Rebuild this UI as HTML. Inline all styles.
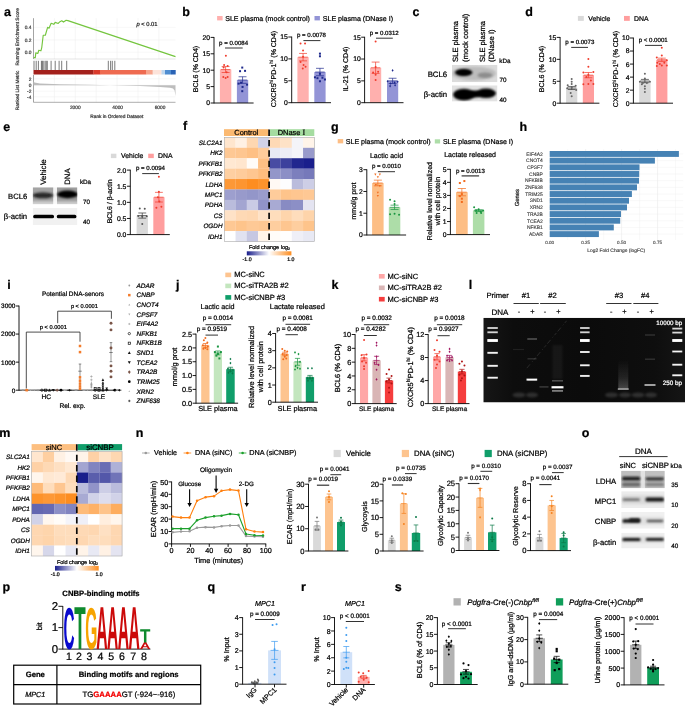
<!DOCTYPE html><html><head><meta charset="utf-8"><title>Figure</title><style>html,body{margin:0;padding:0;background:#fff}svg{display:block}text{font-family:"Liberation Sans",Arial,Helvetica,sans-serif;text-rendering:geometricPrecision}</style></head><body><svg width="685" height="709" viewBox="0 0 685 709"><defs><filter id="blur1" x="-30%" y="-60%" width="160%" height="220%"><feGaussianBlur stdDeviation="1.1"/></filter><filter id="blur2" x="-30%" y="-60%" width="160%" height="220%"><feGaussianBlur stdDeviation="0.6"/></filter><clipPath id="cc1"><rect x="452" y="64.8" width="45.5" height="17.5"/></clipPath><clipPath id="cc2"><rect x="452" y="85.3" width="45.5" height="16.3"/></clipPath></defs>
<text x="4" y="16" font-size="12.5" stroke="#000" stroke-width="0.22" font-weight="bold">a</text>
<line x1="54.4" y1="18.2" x2="54.4" y2="59" stroke="#ececec" stroke-width="0.5"/>
<line x1="54.4" y1="75" x2="54.4" y2="102.3" stroke="#ececec" stroke-width="0.5"/>
<line x1="75.3" y1="18.2" x2="75.3" y2="59" stroke="#ececec" stroke-width="0.5"/>
<line x1="75.3" y1="75" x2="75.3" y2="102.3" stroke="#ececec" stroke-width="0.5"/>
<line x1="96.2" y1="18.2" x2="96.2" y2="59" stroke="#ececec" stroke-width="0.5"/>
<line x1="96.2" y1="75" x2="96.2" y2="102.3" stroke="#ececec" stroke-width="0.5"/>
<line x1="117.1" y1="18.2" x2="117.1" y2="59" stroke="#ececec" stroke-width="0.5"/>
<line x1="117.1" y1="75" x2="117.1" y2="102.3" stroke="#ececec" stroke-width="0.5"/>
<line x1="138" y1="18.2" x2="138" y2="59" stroke="#ececec" stroke-width="0.5"/>
<line x1="138" y1="75" x2="138" y2="102.3" stroke="#ececec" stroke-width="0.5"/>
<line x1="158.9" y1="18.2" x2="158.9" y2="59" stroke="#ececec" stroke-width="0.5"/>
<line x1="158.9" y1="75" x2="158.9" y2="102.3" stroke="#ececec" stroke-width="0.5"/>
<line x1="33.5" y1="27.3" x2="175.5" y2="27.3" stroke="#efefef" stroke-width="0.5"/>
<line x1="33.5" y1="39.9" x2="175.5" y2="39.9" stroke="#efefef" stroke-width="0.5"/>
<line x1="33.5" y1="52.2" x2="175.5" y2="52.2" stroke="#efefef" stroke-width="0.5"/>
<line x1="33.5" y1="78.8" x2="175.5" y2="78.8" stroke="#efefef" stroke-width="0.5"/>
<line x1="33.5" y1="85.2" x2="175.5" y2="85.2" stroke="#efefef" stroke-width="0.5"/>
<line x1="33.5" y1="91.2" x2="175.5" y2="91.2" stroke="#efefef" stroke-width="0.5"/>
<line x1="33.5" y1="96.8" x2="175.5" y2="96.8" stroke="#efefef" stroke-width="0.5"/>
<line x1="33.5" y1="18.2" x2="33.5" y2="59" stroke="#666" stroke-width="0.6"/>
<line x1="33.5" y1="59" x2="175.5" y2="59" stroke="#bbb" stroke-width="0.4"/>
<line x1="33.5" y1="75" x2="33.5" y2="102.3" stroke="#666" stroke-width="0.6"/>
<line x1="33.5" y1="102.3" x2="175.5" y2="102.3" stroke="#777" stroke-width="0.6"/>
<path d="M33.51 57.67 L35.27 57.67 L35.8 52.91 L37.92 53.44 L38.8 50.26 L40.92 50.79 L41.8 47.27 L43.21 35.27 L45.33 35.27 L47.62 27.34 L49.03 28.22 L51.15 23.28 L53.79 24.34 L55.2 22.4 L58.2 23.46 L59.96 21.69 L61.73 20.81 L63.49 22.05 L66.14 20.28 L67.9 20.63 L175.5 56.6" stroke="#74C53E" fill="none" stroke-width="1.15" stroke-linejoin="round"/>
<line x1="34" y1="60.8" x2="34" y2="70" stroke="#222" stroke-width="0.6"/>
<line x1="36.2" y1="60.8" x2="36.2" y2="70" stroke="#222" stroke-width="0.6"/>
<line x1="38.4" y1="60.8" x2="38.4" y2="70" stroke="#222" stroke-width="0.6"/>
<line x1="41.4" y1="60.8" x2="41.4" y2="70" stroke="#222" stroke-width="0.6"/>
<line x1="42.3" y1="60.8" x2="42.3" y2="70" stroke="#222" stroke-width="0.6"/>
<line x1="43.2" y1="60.8" x2="43.2" y2="70" stroke="#222" stroke-width="0.6"/>
<line x1="45" y1="60.8" x2="45" y2="70" stroke="#222" stroke-width="0.6"/>
<line x1="46.2" y1="60.8" x2="46.2" y2="70" stroke="#222" stroke-width="0.6"/>
<line x1="47.3" y1="60.8" x2="47.3" y2="70" stroke="#222" stroke-width="0.6"/>
<line x1="51.1" y1="60.8" x2="51.1" y2="70" stroke="#222" stroke-width="0.6"/>
<line x1="55.2" y1="60.8" x2="55.2" y2="70" stroke="#222" stroke-width="0.6"/>
<line x1="59.1" y1="60.8" x2="59.1" y2="70" stroke="#222" stroke-width="0.6"/>
<line x1="61.7" y1="60.8" x2="61.7" y2="70" stroke="#222" stroke-width="0.6"/>
<line x1="66.7" y1="60.8" x2="66.7" y2="70" stroke="#222" stroke-width="0.6"/>
<line x1="108.3" y1="60.8" x2="108.3" y2="70" stroke="#222" stroke-width="0.6"/>
<line x1="110.6" y1="60.8" x2="110.6" y2="70" stroke="#222" stroke-width="0.6"/>
<line x1="112.3" y1="60.8" x2="112.3" y2="70" stroke="#222" stroke-width="0.6"/>
<line x1="114.8" y1="60.8" x2="114.8" y2="70" stroke="#222" stroke-width="0.6"/>
<rect x="33.5" y="70" width="60.1" height="4.5" fill="#A3201B"/>
<rect x="93.4" y="70" width="6.8" height="4.5" fill="#D93A2B"/>
<rect x="100" y="70" width="46.2" height="4.5" fill="#EE6A50"/>
<rect x="146" y="70" width="6.9" height="4.5" fill="#F6A48C"/>
<rect x="152.7" y="70" width="9" height="4.5" fill="#FCE3DA"/>
<rect x="161.5" y="70" width="3.7" height="4.5" fill="#BFD7EE"/>
<rect x="165" y="70" width="6.2" height="4.5" fill="#4F8DD0"/>
<rect x="171" y="70" width="4.7" height="4.5" fill="#2A63B5"/>
<path d="M33.5 85.2 L33.5 81.4 L34.5 82.6 L40 83.4 L60 84.2 L90 84.8 L110 85.2 L110 85.2 L140 86.1 L160 86.9 L170 87.7 L173 88.5 L174.6 90.5 L175.5 96 L175.5 85.2 Z" stroke="none" fill="#BDBDBD" stroke-width="1"/>
<text x="31.3" y="29" font-size="4.8" stroke="#444" stroke-width="0.22" text-anchor="end" fill="#444">0.4</text>
<text x="31.3" y="41.6" font-size="4.8" stroke="#444" stroke-width="0.22" text-anchor="end" fill="#444">0.2</text>
<text x="31.3" y="53.9" font-size="4.8" stroke="#444" stroke-width="0.22" text-anchor="end" fill="#444">0.0</text>
<text x="31.3" y="80.5" font-size="4.8" stroke="#444" stroke-width="0.22" text-anchor="end" fill="#444">2</text>
<text x="31.3" y="86.9" font-size="4.8" stroke="#444" stroke-width="0.22" text-anchor="end" fill="#444">0</text>
<text x="31.3" y="92.9" font-size="4.8" stroke="#444" stroke-width="0.22" text-anchor="end" fill="#444">-2</text>
<text x="31.3" y="98.5" font-size="4.8" stroke="#444" stroke-width="0.22" text-anchor="end" fill="#444">-4</text>
<text x="75.3" y="109" font-size="4.8" stroke="#444" stroke-width="0.22" text-anchor="middle" fill="#444">2000</text>
<text x="117.7" y="109" font-size="4.8" stroke="#444" stroke-width="0.22" text-anchor="middle" fill="#444">4000</text>
<text x="160" y="109" font-size="4.8" stroke="#444" stroke-width="0.22" text-anchor="middle" fill="#444">6000</text>
<text x="116.8" y="117.6" font-size="4.8" stroke="#333" stroke-width="0.22" text-anchor="middle" fill="#333">Rank in Ordered Dataset</text>
<text x="19.3" y="36.8" font-size="4.8" stroke="#333" stroke-width="0.22" text-anchor="middle" fill="#333" transform="rotate(-90 19.3 36.8)">Running Enrichment Score</text>
<text x="19.3" y="90.4" font-size="4.8" stroke="#333" stroke-width="0.22" text-anchor="middle" fill="#333" transform="rotate(-90 19.3 90.4)">Ranked List Metric</text>
<text x="147" y="25.6" font-size="5.8" stroke="#222" stroke-width="0.22" text-anchor="middle" fill="#222"><tspan font-style="italic">p</tspan> &lt; 0.01</text>
<text x="182.3" y="15.7" font-size="12.5" stroke="#000" stroke-width="0.22" font-weight="bold">b</text>
<rect x="217.1" y="16" width="5.5" height="4.4" fill="#FFB0AE"/>
<text x="225.2" y="20.53" font-size="7.07" stroke="#000" stroke-width="0.22">SLE plasma (mock control)</text>
<rect x="314.5" y="16" width="5.4" height="4.4" fill="#9394D6"/>
<text x="322.8" y="20.53" font-size="7.07" stroke="#000" stroke-width="0.22">SLE plasma (DNase I)</text>
<rect x="219.9" y="69.54" width="11.4" height="33.46" fill="#FFB0AE"/>
<rect x="236.9" y="80.04" width="11.3" height="22.96" fill="#9394D6"/>
<line x1="225.6" y1="66.59" x2="225.6" y2="72.5" stroke="#F03C2D" stroke-width="0.7"/>
<line x1="221.61" y1="66.59" x2="229.59" y2="66.59" stroke="#F03C2D" stroke-width="0.7"/>
<line x1="221.61" y1="72.5" x2="229.59" y2="72.5" stroke="#F03C2D" stroke-width="0.7"/>
<line x1="220.81" y1="69.54" x2="230.39" y2="69.54" stroke="#F03C2D" stroke-width="0.7"/>
<circle cx="225.9" cy="55.77" r="1" fill="#F03C2D"/>
<circle cx="224.1" cy="64.95" r="1" fill="#F03C2D"/>
<circle cx="227.6" cy="65.94" r="1" fill="#F03C2D"/>
<circle cx="223.6" cy="67.58" r="1" fill="#F03C2D"/>
<circle cx="226.6" cy="72.17" r="1" fill="#F03C2D"/>
<circle cx="223.3" cy="77.09" r="1" fill="#F03C2D"/>
<circle cx="227.6" cy="77.09" r="1" fill="#F03C2D"/>
<circle cx="225.6" cy="78.07" r="1" fill="#F03C2D"/>
<line x1="242.55" y1="76.76" x2="242.55" y2="83.32" stroke="#1F2A8C" stroke-width="0.7"/>
<line x1="238.59" y1="76.76" x2="246.51" y2="76.76" stroke="#1F2A8C" stroke-width="0.7"/>
<line x1="238.59" y1="83.32" x2="246.51" y2="83.32" stroke="#1F2A8C" stroke-width="0.7"/>
<line x1="237.8" y1="80.04" x2="247.3" y2="80.04" stroke="#1F2A8C" stroke-width="0.7"/>
<rect x="241.25" y="66.58" width="2" height="2" fill="#1F2A8C"/>
<rect x="239.05" y="70.18" width="2" height="2" fill="#1F2A8C"/>
<rect x="244.05" y="69.86" width="2" height="2" fill="#1F2A8C"/>
<rect x="237.55" y="82.65" width="2" height="2" fill="#1F2A8C"/>
<rect x="246.05" y="83.63" width="2" height="2" fill="#1F2A8C"/>
<rect x="240.05" y="81.66" width="2" height="2" fill="#1F2A8C"/>
<rect x="241.55" y="85.93" width="2" height="2" fill="#1F2A8C"/>
<rect x="241.25" y="90.19" width="2" height="2" fill="#1F2A8C"/>
<line x1="214" y1="37" x2="214" y2="103.4" stroke="#000" stroke-width="0.9"/>
<line x1="214" y1="103" x2="253.6" y2="103" stroke="#000" stroke-width="0.9"/>
<line x1="210.6" y1="103" x2="214" y2="103" stroke="#000" stroke-width="0.9"/>
<text x="210.1" y="105.45" font-size="6.8" stroke="#000" stroke-width="0.22" text-anchor="end">0</text>
<line x1="210.6" y1="86.6" x2="214" y2="86.6" stroke="#000" stroke-width="0.9"/>
<text x="210.1" y="89.05" font-size="6.8" stroke="#000" stroke-width="0.22" text-anchor="end">5</text>
<line x1="210.6" y1="70.2" x2="214" y2="70.2" stroke="#000" stroke-width="0.9"/>
<text x="210.1" y="72.65" font-size="6.8" stroke="#000" stroke-width="0.22" text-anchor="end">10</text>
<line x1="210.6" y1="53.8" x2="214" y2="53.8" stroke="#000" stroke-width="0.9"/>
<text x="210.1" y="56.25" font-size="6.8" stroke="#000" stroke-width="0.22" text-anchor="end">15</text>
<line x1="210.6" y1="37.4" x2="214" y2="37.4" stroke="#000" stroke-width="0.9"/>
<text x="210.1" y="39.85" font-size="6.8" stroke="#000" stroke-width="0.22" text-anchor="end">20</text>
<text x="198.4" y="69" font-size="7" stroke="#000" stroke-width="0.22" text-anchor="middle" transform="rotate(-90 198.4 69)">BCL6 (% CD4)</text>
<text x="233.6" y="44.5" font-size="6.1" stroke="#000" stroke-width="0.22" text-anchor="middle">p = 0.0084</text>
<line x1="225" y1="48" x2="242.7" y2="48" stroke="#333" stroke-width="1"/>
<rect x="297.4" y="57.15" width="11.3" height="45.55" fill="#FFB0AE"/>
<rect x="314.3" y="72.04" width="11.3" height="30.66" fill="#9394D6"/>
<line x1="303.05" y1="53.43" x2="303.05" y2="60.87" stroke="#F03C2D" stroke-width="0.7"/>
<line x1="299.09" y1="53.43" x2="307" y2="53.43" stroke="#F03C2D" stroke-width="0.7"/>
<line x1="299.09" y1="60.87" x2="307" y2="60.87" stroke="#F03C2D" stroke-width="0.7"/>
<line x1="298.3" y1="57.15" x2="307.8" y2="57.15" stroke="#F03C2D" stroke-width="0.7"/>
<circle cx="300.55" cy="43.57" r="1" fill="#F03C2D"/>
<circle cx="305.05" cy="43.57" r="1" fill="#F03C2D"/>
<circle cx="303.05" cy="50.58" r="1" fill="#F03C2D"/>
<circle cx="303.05" cy="56.71" r="1" fill="#F03C2D"/>
<circle cx="300.55" cy="61.97" r="1" fill="#F03C2D"/>
<circle cx="303.55" cy="65.03" r="1" fill="#F03C2D"/>
<circle cx="305.55" cy="66.78" r="1" fill="#F03C2D"/>
<circle cx="302.75" cy="68.54" r="1" fill="#F03C2D"/>
<line x1="319.95" y1="68.32" x2="319.95" y2="75.76" stroke="#1F2A8C" stroke-width="0.7"/>
<line x1="316" y1="68.32" x2="323.9" y2="68.32" stroke="#1F2A8C" stroke-width="0.7"/>
<line x1="316" y1="75.76" x2="323.9" y2="75.76" stroke="#1F2A8C" stroke-width="0.7"/>
<line x1="315.2" y1="72.04" x2="324.7" y2="72.04" stroke="#1F2A8C" stroke-width="0.7"/>
<rect x="318.95" y="52.64" width="2" height="2" fill="#1F2A8C"/>
<rect x="318.95" y="55.27" width="2" height="2" fill="#1F2A8C"/>
<rect x="318.95" y="72.79" width="2" height="2" fill="#1F2A8C"/>
<rect x="313.95" y="76.3" width="2" height="2" fill="#1F2A8C"/>
<rect x="316.45" y="77.17" width="2" height="2" fill="#1F2A8C"/>
<rect x="321.45" y="76.73" width="2" height="2" fill="#1F2A8C"/>
<rect x="323.95" y="78.49" width="2" height="2" fill="#1F2A8C"/>
<rect x="318.95" y="80.24" width="2" height="2" fill="#1F2A8C"/>
<line x1="291.7" y1="36.6" x2="291.7" y2="103.1" stroke="#000" stroke-width="0.9"/>
<line x1="291.7" y1="102.7" x2="331" y2="102.7" stroke="#000" stroke-width="0.9"/>
<line x1="288.3" y1="102.7" x2="291.7" y2="102.7" stroke="#000" stroke-width="0.9"/>
<text x="287.8" y="105.15" font-size="6.8" stroke="#000" stroke-width="0.22" text-anchor="end">0</text>
<line x1="288.3" y1="80.8" x2="291.7" y2="80.8" stroke="#000" stroke-width="0.9"/>
<text x="287.8" y="83.25" font-size="6.8" stroke="#000" stroke-width="0.22" text-anchor="end">5</text>
<line x1="288.3" y1="58.9" x2="291.7" y2="58.9" stroke="#000" stroke-width="0.9"/>
<text x="287.8" y="61.35" font-size="6.8" stroke="#000" stroke-width="0.22" text-anchor="end">10</text>
<line x1="288.3" y1="37" x2="291.7" y2="37" stroke="#000" stroke-width="0.9"/>
<text x="287.8" y="39.45" font-size="6.8" stroke="#000" stroke-width="0.22" text-anchor="end">15</text>
<text x="275.8" y="69" font-size="7" stroke="#000" stroke-width="0.22" text-anchor="middle" transform="rotate(-90 275.8 69)">CXCR5<tspan font-size="72%" dy="-2.4" stroke-width="0.12">hi</tspan><tspan dy="2.4">PD-1</tspan><tspan font-size="72%" dy="-2.4" stroke-width="0.12">hi</tspan><tspan dy="2.4"> (% CD4)</tspan></text>
<text x="311.5" y="37.3" font-size="6.1" stroke="#000" stroke-width="0.22" text-anchor="middle">p = 0.0078</text>
<line x1="303.4" y1="40.6" x2="320.4" y2="40.6" stroke="#333" stroke-width="1"/>
<rect x="370" y="67.77" width="11.2" height="34.93" fill="#FFB0AE"/>
<rect x="387" y="80.87" width="11.2" height="21.83" fill="#9394D6"/>
<line x1="375.6" y1="62.09" x2="375.6" y2="73.44" stroke="#F03C2D" stroke-width="0.7"/>
<line x1="371.68" y1="62.09" x2="379.52" y2="62.09" stroke="#F03C2D" stroke-width="0.7"/>
<line x1="371.68" y1="73.44" x2="379.52" y2="73.44" stroke="#F03C2D" stroke-width="0.7"/>
<line x1="370.9" y1="67.77" x2="380.3" y2="67.77" stroke="#F03C2D" stroke-width="0.7"/>
<circle cx="375.6" cy="41.57" r="1" fill="#F03C2D"/>
<circle cx="375.6" cy="66.89" r="1" fill="#F03C2D"/>
<circle cx="373.1" cy="72.57" r="1" fill="#F03C2D"/>
<circle cx="378.1" cy="71.7" r="1" fill="#F03C2D"/>
<circle cx="375.6" cy="74.75" r="1" fill="#F03C2D"/>
<circle cx="375.6" cy="79.99" r="1" fill="#F03C2D"/>
<line x1="392.6" y1="78.25" x2="392.6" y2="83.49" stroke="#1F2A8C" stroke-width="0.7"/>
<line x1="388.68" y1="78.25" x2="396.52" y2="78.25" stroke="#1F2A8C" stroke-width="0.7"/>
<line x1="388.68" y1="83.49" x2="396.52" y2="83.49" stroke="#1F2A8C" stroke-width="0.7"/>
<line x1="387.9" y1="80.87" x2="397.3" y2="80.87" stroke="#1F2A8C" stroke-width="0.7"/>
<polygon points="392.6,69.09 393.6,70.39 392.6,71.69 391.6,70.39" fill="#1F2A8C"/>
<polygon points="387.6,80 388.6,81.3 387.6,82.6 386.6,81.3" fill="#1F2A8C"/>
<polygon points="397.6,80.44 398.6,81.74 397.6,83.04 396.6,81.74" fill="#1F2A8C"/>
<polygon points="390.6,82.19 391.6,83.49 390.6,84.79 389.6,83.49" fill="#1F2A8C"/>
<polygon points="394.6,81.31 395.6,82.61 394.6,83.91 393.6,82.61" fill="#1F2A8C"/>
<polygon points="390.1,84.81 391.1,86.11 390.1,87.41 389.1,86.11" fill="#1F2A8C"/>
<polygon points="395.1,83.93 396.1,85.23 395.1,86.53 394.1,85.23" fill="#1F2A8C"/>
<line x1="364.6" y1="36.8" x2="364.6" y2="103.1" stroke="#000" stroke-width="0.9"/>
<line x1="364.6" y1="102.7" x2="403.5" y2="102.7" stroke="#000" stroke-width="0.9"/>
<line x1="361.2" y1="102.7" x2="364.6" y2="102.7" stroke="#000" stroke-width="0.9"/>
<text x="360.7" y="105.15" font-size="6.8" stroke="#000" stroke-width="0.22" text-anchor="end">0</text>
<line x1="361.2" y1="80.87" x2="364.6" y2="80.87" stroke="#000" stroke-width="0.9"/>
<text x="360.7" y="83.31" font-size="6.8" stroke="#000" stroke-width="0.22" text-anchor="end">5</text>
<line x1="361.2" y1="59.03" x2="364.6" y2="59.03" stroke="#000" stroke-width="0.9"/>
<text x="360.7" y="61.48" font-size="6.8" stroke="#000" stroke-width="0.22" text-anchor="end">10</text>
<line x1="361.2" y1="37.2" x2="364.6" y2="37.2" stroke="#000" stroke-width="0.9"/>
<text x="360.7" y="39.65" font-size="6.8" stroke="#000" stroke-width="0.22" text-anchor="end">15</text>
<text x="348.4" y="69" font-size="7" stroke="#000" stroke-width="0.22" text-anchor="middle" transform="rotate(-90 348.4 69)">IL-21 (% CD4)</text>
<text x="384.2" y="34.8" font-size="6.1" stroke="#000" stroke-width="0.22" text-anchor="middle">p = 0.0312</text>
<line x1="376" y1="38.2" x2="392.8" y2="38.2" stroke="#333" stroke-width="1"/>
<text x="412.5" y="15.8" font-size="12.5" stroke="#000" stroke-width="0.22" font-weight="bold">c</text>
<text x="458.4" y="61.9" font-size="7.6" stroke="#000" stroke-width="0.22" transform="rotate(-90 458.4 61.9)">SLE plasma</text>
<text x="468" y="61.9" font-size="7.6" stroke="#000" stroke-width="0.22" transform="rotate(-90 468 61.9)">(mock control)</text>
<text x="484.7" y="61.9" font-size="7.6" stroke="#000" stroke-width="0.22" transform="rotate(-90 484.7 61.9)">SLE plasma</text>
<text x="494.3" y="61.9" font-size="7.6" stroke="#000" stroke-width="0.22" transform="rotate(-90 494.3 61.9)">(DNase I)</text>
<text x="499.3" y="62.5" font-size="6.3" stroke="#000" stroke-width="0.22">kDa</text>
<g clip-path="url(#cc1)">
<rect x="452" y="64.8" width="45.5" height="17.5" fill="#DCDCDC"/>
<ellipse cx="474" cy="73.5" rx="22" ry="7" fill="#777" opacity="0.3" filter="url(#blur1)"/>
<ellipse cx="463.7" cy="72.5" rx="8.8" ry="3.5" fill="#000" opacity="1" filter="url(#blur1)"/>
<ellipse cx="463.7" cy="72.5" rx="6" ry="2" fill="#000" opacity="0.8" filter="url(#blur1)"/>
<ellipse cx="485" cy="75.3" rx="7.5" ry="2.8" fill="#444" opacity="0.4" filter="url(#blur1)"/>
</g><g clip-path="url(#cc2)">
<rect x="452" y="85.3" width="45.5" height="16.3" fill="#E2E2E2"/>
<ellipse cx="464" cy="94.6" rx="11" ry="5.8" fill="#000" opacity="1" filter="url(#blur1)"/>
<ellipse cx="486" cy="93.3" rx="10" ry="4.8" fill="#000" opacity="1" filter="url(#blur1)"/>
<ellipse cx="475" cy="94" rx="6" ry="3.6" fill="#000" opacity="1" filter="url(#blur1)"/>
</g>
<text x="447.2" y="77" font-size="7.8" stroke="#000" stroke-width="0.22" text-anchor="end">BCL6</text>
<text x="447.2" y="96.7" font-size="7.8" stroke="#000" stroke-width="0.22" text-anchor="end">β-actin</text>
<text x="499.6" y="82" font-size="6.3" stroke="#000" stroke-width="0.22">70</text>
<text x="499.6" y="102.2" font-size="6.3" stroke="#000" stroke-width="0.22">40</text>
<text x="525.3" y="16" font-size="12.5" stroke="#000" stroke-width="0.22" font-weight="bold">d</text>
<rect x="577.9" y="15.95" width="5.9" height="4.9" fill="#D9D9D9"/>
<text x="588.2" y="20.67" font-size="6.88" stroke="#000" stroke-width="0.22">Vehicle</text>
<rect x="624" y="15.95" width="5.8" height="4.9" fill="#FF9E9E"/>
<text x="634" y="20.67" font-size="6.88" stroke="#000" stroke-width="0.22">DNA</text>
<rect x="566.1" y="87.98" width="11.2" height="15.22" fill="#D9D9D9"/>
<rect x="582.8" y="75.13" width="11.2" height="28.07" fill="#FF9E9E"/>
<line x1="571.7" y1="86.44" x2="571.7" y2="89.51" stroke="#333" stroke-width="0.7"/>
<line x1="567.78" y1="86.44" x2="575.62" y2="86.44" stroke="#333" stroke-width="0.7"/>
<line x1="567.78" y1="89.51" x2="575.62" y2="89.51" stroke="#333" stroke-width="0.7"/>
<line x1="567" y1="87.98" x2="576.4" y2="87.98" stroke="#333" stroke-width="0.7"/>
<circle cx="571.7" cy="79.07" r="1" fill="#666"/>
<circle cx="571.7" cy="81.71" r="1" fill="#666"/>
<circle cx="567.7" cy="85.21" r="1" fill="#666"/>
<circle cx="575.7" cy="85.65" r="1" fill="#666"/>
<circle cx="571.7" cy="83.9" r="1" fill="#666"/>
<circle cx="567.2" cy="88.29" r="1" fill="#666"/>
<circle cx="571.7" cy="87.85" r="1" fill="#666"/>
<circle cx="576.2" cy="90.04" r="1" fill="#666"/>
<circle cx="570.7" cy="93.11" r="1" fill="#666"/>
<circle cx="571.7" cy="96.18" r="1" fill="#666"/>
<line x1="588.4" y1="72.49" x2="588.4" y2="77.76" stroke="#F03C2D" stroke-width="0.7"/>
<line x1="584.48" y1="72.49" x2="592.32" y2="72.49" stroke="#F03C2D" stroke-width="0.7"/>
<line x1="584.48" y1="77.76" x2="592.32" y2="77.76" stroke="#F03C2D" stroke-width="0.7"/>
<line x1="583.7" y1="75.13" x2="593.1" y2="75.13" stroke="#F03C2D" stroke-width="0.7"/>
<circle cx="588.4" cy="58.89" r="1" fill="#F03C2D"/>
<circle cx="588.4" cy="66.79" r="1" fill="#F03C2D"/>
<circle cx="583.4" cy="72.49" r="1" fill="#F03C2D"/>
<circle cx="593.4" cy="72.05" r="1" fill="#F03C2D"/>
<circle cx="588.4" cy="74.69" r="1" fill="#F03C2D"/>
<circle cx="586.4" cy="76.88" r="1" fill="#F03C2D"/>
<circle cx="590.9" cy="80.39" r="1" fill="#F03C2D"/>
<circle cx="583.4" cy="84.34" r="1" fill="#F03C2D"/>
<circle cx="588.4" cy="83.9" r="1" fill="#F03C2D"/>
<circle cx="593.4" cy="83.9" r="1" fill="#F03C2D"/>
<line x1="560.1" y1="37" x2="560.1" y2="103.6" stroke="#000" stroke-width="0.9"/>
<line x1="560.1" y1="103.2" x2="599.4" y2="103.2" stroke="#000" stroke-width="0.9"/>
<line x1="556.7" y1="103.2" x2="560.1" y2="103.2" stroke="#000" stroke-width="0.9"/>
<text x="556.2" y="105.65" font-size="6.8" stroke="#000" stroke-width="0.22" text-anchor="end">0</text>
<line x1="556.7" y1="81.27" x2="560.1" y2="81.27" stroke="#000" stroke-width="0.9"/>
<text x="556.2" y="83.71" font-size="6.8" stroke="#000" stroke-width="0.22" text-anchor="end">5</text>
<line x1="556.7" y1="59.33" x2="560.1" y2="59.33" stroke="#000" stroke-width="0.9"/>
<text x="556.2" y="61.78" font-size="6.8" stroke="#000" stroke-width="0.22" text-anchor="end">10</text>
<line x1="556.7" y1="37.4" x2="560.1" y2="37.4" stroke="#000" stroke-width="0.9"/>
<text x="556.2" y="39.85" font-size="6.8" stroke="#000" stroke-width="0.22" text-anchor="end">15</text>
<text x="543.6" y="69" font-size="7" stroke="#000" stroke-width="0.22" text-anchor="middle" transform="rotate(-90 543.6 69)">BCL6 (% CD4)</text>
<text x="579.8" y="44" font-size="6.1" stroke="#000" stroke-width="0.22" text-anchor="middle">p = 0.0073</text>
<line x1="571.2" y1="47.4" x2="588" y2="47.4" stroke="#333" stroke-width="1"/>
<rect x="639.2" y="81.03" width="11.4" height="22.17" fill="#D9D9D9"/>
<rect x="656.2" y="59.78" width="11.2" height="43.42" fill="#FF9E9E"/>
<line x1="644.9" y1="79.4" x2="644.9" y2="82.66" stroke="#333" stroke-width="0.7"/>
<line x1="640.91" y1="79.4" x2="648.89" y2="79.4" stroke="#333" stroke-width="0.7"/>
<line x1="640.91" y1="82.66" x2="648.89" y2="82.66" stroke="#333" stroke-width="0.7"/>
<line x1="640.11" y1="81.03" x2="649.69" y2="81.03" stroke="#333" stroke-width="0.7"/>
<circle cx="644.9" cy="73.86" r="1" fill="#666"/>
<circle cx="644.9" cy="78.42" r="1" fill="#666"/>
<circle cx="639.9" cy="81.68" r="1" fill="#666"/>
<circle cx="649.9" cy="81.68" r="1" fill="#666"/>
<circle cx="642.9" cy="82.99" r="1" fill="#666"/>
<circle cx="646.9" cy="82.99" r="1" fill="#666"/>
<circle cx="641.9" cy="84.29" r="1" fill="#666"/>
<circle cx="644.9" cy="86.25" r="1" fill="#666"/>
<circle cx="644.9" cy="88.86" r="1" fill="#666"/>
<circle cx="644.9" cy="92.12" r="1" fill="#666"/>
<line x1="661.8" y1="58.15" x2="661.8" y2="61.41" stroke="#F03C2D" stroke-width="0.7"/>
<line x1="657.88" y1="58.15" x2="665.72" y2="58.15" stroke="#F03C2D" stroke-width="0.7"/>
<line x1="657.88" y1="61.41" x2="665.72" y2="61.41" stroke="#F03C2D" stroke-width="0.7"/>
<line x1="657.1" y1="59.78" x2="666.5" y2="59.78" stroke="#F03C2D" stroke-width="0.7"/>
<circle cx="661.8" cy="47.78" r="1" fill="#F03C2D"/>
<circle cx="661.8" cy="55.6" r="1" fill="#F03C2D"/>
<circle cx="656.8" cy="57.56" r="1" fill="#F03C2D"/>
<circle cx="666.8" cy="60.17" r="1" fill="#F03C2D"/>
<circle cx="657.3" cy="62.78" r="1" fill="#F03C2D"/>
<circle cx="659.8" cy="64.08" r="1" fill="#F03C2D"/>
<circle cx="664.3" cy="62.78" r="1" fill="#F03C2D"/>
<circle cx="656.8" cy="66.04" r="1" fill="#F03C2D"/>
<circle cx="661.8" cy="65.38" r="1" fill="#F03C2D"/>
<circle cx="666.8" cy="65.38" r="1" fill="#F03C2D"/>
<line x1="633.4" y1="37.6" x2="633.4" y2="103.6" stroke="#000" stroke-width="0.9"/>
<line x1="633.4" y1="103.2" x2="673" y2="103.2" stroke="#000" stroke-width="0.9"/>
<line x1="630" y1="103.2" x2="633.4" y2="103.2" stroke="#000" stroke-width="0.9"/>
<text x="629.5" y="105.65" font-size="6.8" stroke="#000" stroke-width="0.22" text-anchor="end">0</text>
<line x1="630" y1="90.16" x2="633.4" y2="90.16" stroke="#000" stroke-width="0.9"/>
<text x="629.5" y="92.61" font-size="6.8" stroke="#000" stroke-width="0.22" text-anchor="end">2</text>
<line x1="630" y1="77.12" x2="633.4" y2="77.12" stroke="#000" stroke-width="0.9"/>
<text x="629.5" y="79.57" font-size="6.8" stroke="#000" stroke-width="0.22" text-anchor="end">4</text>
<line x1="630" y1="64.08" x2="633.4" y2="64.08" stroke="#000" stroke-width="0.9"/>
<text x="629.5" y="66.53" font-size="6.8" stroke="#000" stroke-width="0.22" text-anchor="end">6</text>
<line x1="630" y1="51.04" x2="633.4" y2="51.04" stroke="#000" stroke-width="0.9"/>
<text x="629.5" y="53.49" font-size="6.8" stroke="#000" stroke-width="0.22" text-anchor="end">8</text>
<line x1="630" y1="38" x2="633.4" y2="38" stroke="#000" stroke-width="0.9"/>
<text x="629.5" y="40.45" font-size="6.8" stroke="#000" stroke-width="0.22" text-anchor="end">10</text>
<text x="618.2" y="69" font-size="7" stroke="#000" stroke-width="0.22" text-anchor="middle" transform="rotate(-90 618.2 69)">CXCR5<tspan font-size="72%" dy="-2.4" stroke-width="0.12">hi</tspan><tspan dy="2.4">PD-1</tspan><tspan font-size="72%" dy="-2.4" stroke-width="0.12">hi</tspan><tspan dy="2.4"> (% CD4)</tspan></text>
<text x="653.2" y="41.8" font-size="6.1" stroke="#000" stroke-width="0.22" text-anchor="middle">p &lt; 0.0001</text>
<line x1="645" y1="45.4" x2="662" y2="45.4" stroke="#333" stroke-width="1"/>
<defs><linearGradient id="cb" x1="0" x2="1" y1="0" y2="0"><stop offset="0" stop-color="#1A1F8C"/><stop offset="0.5" stop-color="#fff"/><stop offset="1" stop-color="#FD8D20"/></linearGradient><clipPath id="ce1"><rect x="32.7" y="187.3" width="44.7" height="17"/></clipPath><clipPath id="ce2"><rect x="32.7" y="208" width="44.7" height="17"/></clipPath></defs>
<text x="3.2" y="131" font-size="12.5" stroke="#000" stroke-width="0.22" font-weight="bold">e</text>
<text x="45.7" y="184.8" font-size="7.9" stroke="#000" stroke-width="0.22" transform="rotate(-90 45.7 184.8)">Vehicle</text>
<text x="70.2" y="184.8" font-size="7.8" stroke="#000" stroke-width="0.22" transform="rotate(-90 70.2 184.8)">DNA</text>
<text x="79.9" y="183.7" font-size="6.3" stroke="#000" stroke-width="0.22">kDa</text>
<g clip-path="url(#ce1)">
<rect x="32.7" y="187.3" width="44.7" height="17" fill="#F4F4F4"/>
<rect x="32.7" y="187.3" width="20.5" height="17" fill="#A4A4A4"/>
<rect x="57" y="187.3" width="20.4" height="17" fill="#9E9E9E"/>
<ellipse cx="43" cy="195.4" rx="10.5" ry="2.9" fill="#1a1a1a" opacity="0.9" filter="url(#blur1)"/>
<ellipse cx="67.5" cy="194.4" rx="10.5" ry="3.8" fill="#000" opacity="1" filter="url(#blur1)"/>
<rect x="31" y="201.5" width="48" height="5" fill="#fff" opacity="0.5" filter="url(#blur1)"/>
</g><g clip-path="url(#ce2)">
<rect x="32.7" y="208" width="44.7" height="17" fill="#F1F1F1"/>
<rect x="33.2" y="214.7" width="20.8" height="3.6" rx="1.6" fill="#000" filter="url(#blur2)"/>
<rect x="56.8" y="214.7" width="19.6" height="3.6" rx="1.6" fill="#000" filter="url(#blur2)"/>
</g>
<text x="27.2" y="199" font-size="7.65" stroke="#000" stroke-width="0.22" text-anchor="end">BCL6</text>
<text x="27.2" y="219" font-size="7.75" stroke="#000" stroke-width="0.22" text-anchor="end">β-actin</text>
<text x="83" y="204" font-size="6.3" stroke="#000" stroke-width="0.22">70</text>
<text x="83" y="224" font-size="6.3" stroke="#000" stroke-width="0.22">40</text>
<rect x="110.9" y="153.7" width="5.5" height="4.4" fill="#D9D9D9"/>
<text x="121.1" y="158.17" font-size="6.88" stroke="#000" stroke-width="0.22">Vehicle</text>
<rect x="148.2" y="153.7" width="5.6" height="4.4" fill="#FF9E9E"/>
<text x="158" y="158.17" font-size="6.88" stroke="#000" stroke-width="0.22">DNA</text>
<rect x="136.6" y="215.57" width="11.3" height="19.03" fill="#D9D9D9"/>
<rect x="153.3" y="197.19" width="11.2" height="37.41" fill="#FF9E9E"/>
<line x1="142.25" y1="212.99" x2="142.25" y2="218.15" stroke="#333" stroke-width="0.7"/>
<line x1="138.29" y1="212.99" x2="146.21" y2="212.99" stroke="#333" stroke-width="0.7"/>
<line x1="138.29" y1="218.15" x2="146.21" y2="218.15" stroke="#333" stroke-width="0.7"/>
<line x1="137.5" y1="215.57" x2="147" y2="215.57" stroke="#333" stroke-width="0.7"/>
<circle cx="139.75" cy="208.48" r="1" fill="#555"/>
<circle cx="144.75" cy="208.8" r="1" fill="#555"/>
<circle cx="138.25" cy="215.89" r="1" fill="#555"/>
<circle cx="142.25" cy="216.54" r="1" fill="#555"/>
<circle cx="146.75" cy="216.22" r="1" fill="#555"/>
<circle cx="142.25" cy="223.96" r="1" fill="#555"/>
<line x1="158.9" y1="192.35" x2="158.9" y2="202.03" stroke="#F03C2D" stroke-width="0.7"/>
<line x1="154.98" y1="192.35" x2="162.82" y2="192.35" stroke="#F03C2D" stroke-width="0.7"/>
<line x1="154.98" y1="202.03" x2="162.82" y2="202.03" stroke="#F03C2D" stroke-width="0.7"/>
<line x1="154.2" y1="197.19" x2="163.6" y2="197.19" stroke="#F03C2D" stroke-width="0.7"/>
<circle cx="158.9" cy="176.87" r="1" fill="#F03C2D"/>
<circle cx="158.9" cy="191.71" r="1" fill="#F03C2D"/>
<circle cx="157.9" cy="197.19" r="1" fill="#F03C2D"/>
<circle cx="159.4" cy="201.38" r="1" fill="#F03C2D"/>
<circle cx="156.4" cy="207.83" r="1" fill="#F03C2D"/>
<circle cx="161.4" cy="206.87" r="1" fill="#F03C2D"/>
<line x1="130.3" y1="169.7" x2="130.3" y2="235" stroke="#000" stroke-width="0.9"/>
<line x1="130.3" y1="234.6" x2="169.8" y2="234.6" stroke="#000" stroke-width="0.9"/>
<line x1="126.9" y1="234.6" x2="130.3" y2="234.6" stroke="#000" stroke-width="0.9"/>
<text x="126.4" y="237.05" font-size="6.8" stroke="#000" stroke-width="0.22" text-anchor="end">0.0</text>
<line x1="126.9" y1="218.47" x2="130.3" y2="218.47" stroke="#000" stroke-width="0.9"/>
<text x="126.4" y="220.92" font-size="6.8" stroke="#000" stroke-width="0.22" text-anchor="end">0.5</text>
<line x1="126.9" y1="202.35" x2="130.3" y2="202.35" stroke="#000" stroke-width="0.9"/>
<text x="126.4" y="204.8" font-size="6.8" stroke="#000" stroke-width="0.22" text-anchor="end">1.0</text>
<line x1="126.9" y1="186.22" x2="130.3" y2="186.22" stroke="#000" stroke-width="0.9"/>
<text x="126.4" y="188.67" font-size="6.8" stroke="#000" stroke-width="0.22" text-anchor="end">1.5</text>
<line x1="126.9" y1="170.1" x2="130.3" y2="170.1" stroke="#000" stroke-width="0.9"/>
<text x="126.4" y="172.55" font-size="6.8" stroke="#000" stroke-width="0.22" text-anchor="end">2.0</text>
<text x="111.9" y="201.4" font-size="6.9" stroke="#000" stroke-width="0.22" text-anchor="middle" transform="rotate(-90 111.9 201.4)">BCL6 / β-actin</text>
<text x="150.5" y="170.4" font-size="6.1" stroke="#000" stroke-width="0.22" text-anchor="middle">p = 0.0094</text>
<line x1="142.2" y1="173.6" x2="158.9" y2="173.6" stroke="#333" stroke-width="1"/>
<text x="183" y="130.2" font-size="12.5" stroke="#000" stroke-width="0.22" font-weight="bold">f</text>
<rect x="224" y="129.2" width="44.7" height="6.8" fill="#FBB971"/>
<rect x="270" y="129.2" width="44.3" height="6.8" fill="#A5DCA0"/>
<text x="246.3" y="134.9" font-size="7.45" stroke="#000" stroke-width="0.22" text-anchor="middle">Control</text>
<text x="291.4" y="134.9" font-size="7.45" stroke="#000" stroke-width="0.22" text-anchor="middle">DNase <tspan font-family="Liberation Serif,serif" font-size="8">I</tspan></text>
<rect x="224.3" y="137.4" width="11.4" height="10.56" fill="#FFE6CE"/>
<rect x="235.55" y="137.4" width="11.4" height="10.56" fill="#FFF1E4"/>
<rect x="246.8" y="137.4" width="11.4" height="10.56" fill="#FED7B1"/>
<rect x="258.05" y="137.4" width="11.4" height="10.56" fill="#D1D2E8"/>
<rect x="269.3" y="137.4" width="11.4" height="10.56" fill="#FED9B5"/>
<rect x="280.55" y="137.4" width="11.4" height="10.56" fill="#FEE2C7"/>
<rect x="291.8" y="137.4" width="11.4" height="10.56" fill="#F4F4F9"/>
<rect x="303.05" y="137.4" width="11.4" height="10.56" fill="#FFF4E9"/>
<rect x="224.3" y="147.81" width="11.4" height="10.56" fill="#FEC894"/>
<rect x="235.55" y="147.81" width="11.4" height="10.56" fill="#FEC690"/>
<rect x="246.8" y="147.81" width="11.4" height="10.56" fill="#FEC084"/>
<rect x="258.05" y="147.81" width="11.4" height="10.56" fill="#FECC9B"/>
<rect x="269.3" y="147.81" width="11.4" height="10.56" fill="#E8E9F4"/>
<rect x="280.55" y="147.81" width="11.4" height="10.56" fill="#EDEDF6"/>
<rect x="291.8" y="147.81" width="11.4" height="10.56" fill="#F4F4F9"/>
<rect x="303.05" y="147.81" width="11.4" height="10.56" fill="#989ACB"/>
<rect x="224.3" y="158.22" width="11.4" height="10.56" fill="#FFE8D2"/>
<rect x="235.55" y="158.22" width="11.4" height="10.56" fill="#FFE6CE"/>
<rect x="246.8" y="158.22" width="11.4" height="10.56" fill="#FFFCF8"/>
<rect x="258.05" y="158.22" width="11.4" height="10.56" fill="#FEC084"/>
<rect x="269.3" y="158.22" width="11.4" height="10.56" fill="#484CA3"/>
<rect x="280.55" y="158.22" width="11.4" height="10.56" fill="#3C419D"/>
<rect x="291.8" y="158.22" width="11.4" height="10.56" fill="#21268F"/>
<rect x="303.05" y="158.22" width="11.4" height="10.56" fill="#1A1F8C"/>
<rect x="224.3" y="168.63" width="11.4" height="10.56" fill="#FECFA1"/>
<rect x="235.55" y="168.63" width="11.4" height="10.56" fill="#FECC9B"/>
<rect x="246.8" y="168.63" width="11.4" height="10.56" fill="#FEC690"/>
<rect x="258.05" y="168.63" width="11.4" height="10.56" fill="#FEBD7E"/>
<rect x="269.3" y="168.63" width="11.4" height="10.56" fill="#9396C9"/>
<rect x="280.55" y="168.63" width="11.4" height="10.56" fill="#8C8FC6"/>
<rect x="291.8" y="168.63" width="11.4" height="10.56" fill="#7C7FBD"/>
<rect x="303.05" y="168.63" width="11.4" height="10.56" fill="#7679BA"/>
<rect x="224.3" y="179.04" width="11.4" height="10.56" fill="#FD9836"/>
<rect x="235.55" y="179.04" width="11.4" height="10.56" fill="#FD9530"/>
<rect x="246.8" y="179.04" width="11.4" height="10.56" fill="#FD8D20"/>
<rect x="258.05" y="179.04" width="11.4" height="10.56" fill="#FD932B"/>
<rect x="269.3" y="179.04" width="11.4" height="10.56" fill="#FFF9F4"/>
<rect x="280.55" y="179.04" width="11.4" height="10.56" fill="#FDFDFE"/>
<rect x="291.8" y="179.04" width="11.4" height="10.56" fill="#BABCDC"/>
<rect x="303.05" y="179.04" width="11.4" height="10.56" fill="#CDCEE6"/>
<rect x="224.3" y="189.45" width="11.4" height="10.56" fill="#9D9FCE"/>
<rect x="235.55" y="189.45" width="11.4" height="10.56" fill="#989ACB"/>
<rect x="246.8" y="189.45" width="11.4" height="10.56" fill="#9396C9"/>
<rect x="258.05" y="189.45" width="11.4" height="10.56" fill="#9A9CCC"/>
<rect x="269.3" y="189.45" width="11.4" height="10.56" fill="#FECC9B"/>
<rect x="280.55" y="189.45" width="11.4" height="10.56" fill="#FEC48B"/>
<rect x="291.8" y="189.45" width="11.4" height="10.56" fill="#FEC690"/>
<rect x="303.05" y="189.45" width="11.4" height="10.56" fill="#FEC894"/>
<rect x="224.3" y="199.86" width="11.4" height="10.56" fill="#BABCDC"/>
<rect x="235.55" y="199.86" width="11.4" height="10.56" fill="#A3A5D1"/>
<rect x="246.8" y="199.86" width="11.4" height="10.56" fill="#CACBE5"/>
<rect x="258.05" y="199.86" width="11.4" height="10.56" fill="#9193C8"/>
<rect x="269.3" y="199.86" width="11.4" height="10.56" fill="#A8AAD3"/>
<rect x="280.55" y="199.86" width="11.4" height="10.56" fill="#888BC3"/>
<rect x="291.8" y="199.86" width="11.4" height="10.56" fill="#8C8FC6"/>
<rect x="303.05" y="199.86" width="11.4" height="10.56" fill="#E4E4F1"/>
<rect x="224.3" y="210.27" width="11.4" height="10.56" fill="#FEE2C7"/>
<rect x="235.55" y="210.27" width="11.4" height="10.56" fill="#FED9B5"/>
<rect x="246.8" y="210.27" width="11.4" height="10.56" fill="#FED7B1"/>
<rect x="258.05" y="210.27" width="11.4" height="10.56" fill="#FEE2C7"/>
<rect x="269.3" y="210.27" width="11.4" height="10.56" fill="#FEDDBC"/>
<rect x="280.55" y="210.27" width="11.4" height="10.56" fill="#FED5AC"/>
<rect x="291.8" y="210.27" width="11.4" height="10.56" fill="#FEDDBC"/>
<rect x="303.05" y="210.27" width="11.4" height="10.56" fill="#FED4AA"/>
<rect x="224.3" y="220.68" width="11.4" height="10.56" fill="#FEC894"/>
<rect x="235.55" y="220.68" width="11.4" height="10.56" fill="#FEC48B"/>
<rect x="246.8" y="220.68" width="11.4" height="10.56" fill="#FEC996"/>
<rect x="258.05" y="220.68" width="11.4" height="10.56" fill="#FEC792"/>
<rect x="269.3" y="220.68" width="11.4" height="10.56" fill="#FECE9F"/>
<rect x="280.55" y="220.68" width="11.4" height="10.56" fill="#FEC690"/>
<rect x="291.8" y="220.68" width="11.4" height="10.56" fill="#FECE9F"/>
<rect x="303.05" y="220.68" width="11.4" height="10.56" fill="#FEC48B"/>
<rect x="224.3" y="231.09" width="11.4" height="10.56" fill="#FFFFFF"/>
<rect x="235.55" y="231.09" width="11.4" height="10.56" fill="#E1E2F0"/>
<rect x="246.8" y="231.09" width="11.4" height="10.56" fill="#C6C7E2"/>
<rect x="258.05" y="231.09" width="11.4" height="10.56" fill="#FFF4E9"/>
<rect x="269.3" y="231.09" width="11.4" height="10.56" fill="#FFFCF8"/>
<rect x="280.55" y="231.09" width="11.4" height="10.56" fill="#FFFEFD"/>
<rect x="291.8" y="231.09" width="11.4" height="10.56" fill="#EFEFF7"/>
<rect x="303.05" y="231.09" width="11.4" height="10.56" fill="#E8E9F4"/>
<rect x="224.3" y="137.4" width="90" height="104.1" fill="none" stroke="#aaa" stroke-width="0.6"/>
<text x="222.5" y="144.89" font-size="6.36" stroke="#000" stroke-width="0.22" text-anchor="end" font-style="italic">SLC2A1</text>
<text x="222.5" y="155.3" font-size="6.36" stroke="#000" stroke-width="0.22" text-anchor="end" font-style="italic">HK2</text>
<text x="222.5" y="165.71" font-size="6.36" stroke="#000" stroke-width="0.22" text-anchor="end" font-style="italic">PFKFB1</text>
<text x="222.5" y="176.12" font-size="6.36" stroke="#000" stroke-width="0.22" text-anchor="end" font-style="italic">PFKFB2</text>
<text x="222.5" y="186.53" font-size="6.36" stroke="#000" stroke-width="0.22" text-anchor="end" font-style="italic">LDHA</text>
<text x="222.5" y="196.94" font-size="6.36" stroke="#000" stroke-width="0.22" text-anchor="end" font-style="italic">MPC1</text>
<text x="222.5" y="207.35" font-size="6.36" stroke="#000" stroke-width="0.22" text-anchor="end" font-style="italic">PDHA</text>
<text x="222.5" y="217.76" font-size="6.36" stroke="#000" stroke-width="0.22" text-anchor="end" font-style="italic">CS</text>
<text x="222.5" y="228.17" font-size="6.36" stroke="#000" stroke-width="0.22" text-anchor="end" font-style="italic">OGDH</text>
<text x="222.5" y="238.58" font-size="6.36" stroke="#000" stroke-width="0.22" text-anchor="end" font-style="italic">IDH1</text>
<line x1="269.1" y1="129.5" x2="269.1" y2="241.5" stroke="#0a0a0a" stroke-width="1.7" stroke-dasharray="6.4 4"/>
<text x="248.9" y="249.3" font-size="5.5" stroke="#000" stroke-width="0.22">Fold change log<tspan font-size="3.6" dy="1">2</tspan></text>
<rect x="246.8" y="251.3" width="44.6" height="4.1" fill="url(#cb)"/>
<text x="247.1" y="261.1" font-size="5.2" stroke="#000" stroke-width="0.22" text-anchor="middle">-1.0</text>
<text x="290.9" y="261.1" font-size="5.2" stroke="#000" stroke-width="0.22" text-anchor="middle">1.0</text>
<text x="331" y="131" font-size="12.5" stroke="#000" stroke-width="0.22" font-weight="bold">g</text>
<rect x="337.7" y="139.05" width="5.5" height="4.3" fill="#FDBE85"/>
<text x="345.8" y="143.53" font-size="7.07" stroke="#000" stroke-width="0.22">SLE plasma (mock control)</text>
<rect x="434.8" y="139.3" width="5.3" height="4.2" fill="#ADDDA8"/>
<text x="442.9" y="143.73" font-size="7.07" stroke="#000" stroke-width="0.22">SLE plasma (DNase I)</text>
<text x="386.5" y="157.6" font-size="7" stroke="#000" stroke-width="0.22" text-anchor="middle">Lactic acid</text>
<rect x="372.1" y="182.98" width="11.5" height="52.02" fill="#FDBE85"/>
<rect x="388.8" y="207.36" width="11.5" height="27.64" fill="#ADDDA8"/>
<line x1="377.85" y1="180.15" x2="377.85" y2="185.81" stroke="#F26B1D" stroke-width="0.7"/>
<line x1="373.83" y1="180.15" x2="381.88" y2="180.15" stroke="#F26B1D" stroke-width="0.7"/>
<line x1="373.83" y1="185.81" x2="381.88" y2="185.81" stroke="#F26B1D" stroke-width="0.7"/>
<line x1="373.02" y1="182.98" x2="382.68" y2="182.98" stroke="#F26B1D" stroke-width="0.7"/>
<polygon points="375.35,175.69 374.25,173.59 376.45,173.59" fill="#F26B1D"/>
<polygon points="379.85,175.69 378.75,173.59 380.95,173.59" fill="#F26B1D"/>
<polygon points="377.85,178.3 376.75,176.2 378.95,176.2" fill="#F26B1D"/>
<polygon points="375.85,186.14 374.75,184.04 376.95,184.04" fill="#F26B1D"/>
<polygon points="379.85,187.22 378.75,185.12 380.95,185.12" fill="#F26B1D"/>
<polygon points="377.85,193.75 376.75,191.66 378.95,191.66" fill="#F26B1D"/>
<polygon points="377.85,197.02 376.75,194.92 378.95,194.92" fill="#F26B1D"/>
<line x1="394.55" y1="205.18" x2="394.55" y2="209.53" stroke="#1A9641" stroke-width="0.7"/>
<line x1="390.53" y1="205.18" x2="398.57" y2="205.18" stroke="#1A9641" stroke-width="0.7"/>
<line x1="390.53" y1="209.53" x2="398.57" y2="209.53" stroke="#1A9641" stroke-width="0.7"/>
<line x1="389.72" y1="207.36" x2="399.38" y2="207.36" stroke="#1A9641" stroke-width="0.7"/>
<circle cx="390.05" cy="199.74" r="1" fill="#1A9641"/>
<circle cx="394.55" cy="201.26" r="1" fill="#1A9641"/>
<circle cx="394.55" cy="204.09" r="1" fill="#1A9641"/>
<circle cx="390.05" cy="214.32" r="1" fill="#1A9641"/>
<circle cx="399.05" cy="214.76" r="1" fill="#1A9641"/>
<circle cx="394.55" cy="213.67" r="1" fill="#1A9641"/>
<line x1="366.8" y1="169.3" x2="366.8" y2="235.4" stroke="#000" stroke-width="0.9"/>
<line x1="366.8" y1="235" x2="406.1" y2="235" stroke="#000" stroke-width="0.9"/>
<line x1="363.4" y1="235" x2="366.8" y2="235" stroke="#000" stroke-width="0.9"/>
<text x="362.9" y="237.45" font-size="6.8" stroke="#000" stroke-width="0.22" text-anchor="end">0</text>
<line x1="363.4" y1="213.23" x2="366.8" y2="213.23" stroke="#000" stroke-width="0.9"/>
<text x="362.9" y="215.68" font-size="6.8" stroke="#000" stroke-width="0.22" text-anchor="end">1</text>
<line x1="363.4" y1="191.47" x2="366.8" y2="191.47" stroke="#000" stroke-width="0.9"/>
<text x="362.9" y="193.91" font-size="6.8" stroke="#000" stroke-width="0.22" text-anchor="end">2</text>
<line x1="363.4" y1="169.7" x2="366.8" y2="169.7" stroke="#000" stroke-width="0.9"/>
<text x="362.9" y="172.15" font-size="6.8" stroke="#000" stroke-width="0.22" text-anchor="end">3</text>
<text x="355.9" y="201" font-size="7" stroke="#000" stroke-width="0.22" text-anchor="middle" transform="rotate(-90 355.9 201)">mmol/g prot</text>
<text x="386.4" y="168" font-size="6.1" stroke="#000" stroke-width="0.22" text-anchor="middle">p = 0.0010</text>
<line x1="377.9" y1="171.7" x2="395" y2="171.7" stroke="#333" stroke-width="1"/>
<text x="470.1" y="157.3" font-size="7" stroke="#000" stroke-width="0.22" text-anchor="middle">Lactate released</text>
<rect x="456" y="192.16" width="11.7" height="42.44" fill="#FDBE85"/>
<rect x="472.9" y="210.57" width="11.5" height="24.03" fill="#ADDDA8"/>
<line x1="461.85" y1="188.5" x2="461.85" y2="195.81" stroke="#F26B1D" stroke-width="0.7"/>
<line x1="457.75" y1="188.5" x2="465.95" y2="188.5" stroke="#F26B1D" stroke-width="0.7"/>
<line x1="457.75" y1="195.81" x2="465.95" y2="195.81" stroke="#F26B1D" stroke-width="0.7"/>
<line x1="456.94" y1="192.16" x2="466.76" y2="192.16" stroke="#F26B1D" stroke-width="0.7"/>
<rect x="458.85" y="182.01" width="2" height="2" fill="#F26B1D"/>
<rect x="463.35" y="180.05" width="2" height="2" fill="#F26B1D"/>
<rect x="460.85" y="193.11" width="2" height="2" fill="#F26B1D"/>
<rect x="458.85" y="195.07" width="2" height="2" fill="#F26B1D"/>
<rect x="460.85" y="197.69" width="2" height="2" fill="#F26B1D"/>
<rect x="460.85" y="200.95" width="2" height="2" fill="#F26B1D"/>
<line x1="478.65" y1="209.66" x2="478.65" y2="211.48" stroke="#1A9641" stroke-width="0.7"/>
<line x1="474.62" y1="209.66" x2="482.67" y2="209.66" stroke="#1A9641" stroke-width="0.7"/>
<line x1="474.62" y1="211.48" x2="482.67" y2="211.48" stroke="#1A9641" stroke-width="0.7"/>
<line x1="473.82" y1="210.57" x2="483.48" y2="210.57" stroke="#1A9641" stroke-width="0.7"/>
<circle cx="474.15" cy="207.17" r="1" fill="#1A9641"/>
<circle cx="478.65" cy="209.13" r="1" fill="#1A9641"/>
<circle cx="483.15" cy="210.44" r="1" fill="#1A9641"/>
<circle cx="476.15" cy="210.44" r="1" fill="#1A9641"/>
<circle cx="480.65" cy="211.75" r="1" fill="#1A9641"/>
<circle cx="476.65" cy="213.05" r="1" fill="#1A9641"/>
<circle cx="481.15" cy="213.05" r="1" fill="#1A9641"/>
<line x1="450.4" y1="168.9" x2="450.4" y2="235" stroke="#000" stroke-width="0.9"/>
<line x1="450.4" y1="234.6" x2="490" y2="234.6" stroke="#000" stroke-width="0.9"/>
<line x1="447" y1="234.6" x2="450.4" y2="234.6" stroke="#000" stroke-width="0.9"/>
<text x="446.5" y="237.05" font-size="6.8" stroke="#000" stroke-width="0.22" text-anchor="end">0</text>
<line x1="447" y1="221.54" x2="450.4" y2="221.54" stroke="#000" stroke-width="0.9"/>
<text x="446.5" y="223.99" font-size="6.8" stroke="#000" stroke-width="0.22" text-anchor="end">1</text>
<line x1="447" y1="208.48" x2="450.4" y2="208.48" stroke="#000" stroke-width="0.9"/>
<text x="446.5" y="210.93" font-size="6.8" stroke="#000" stroke-width="0.22" text-anchor="end">2</text>
<line x1="447" y1="195.42" x2="450.4" y2="195.42" stroke="#000" stroke-width="0.9"/>
<text x="446.5" y="197.87" font-size="6.8" stroke="#000" stroke-width="0.22" text-anchor="end">3</text>
<line x1="447" y1="182.36" x2="450.4" y2="182.36" stroke="#000" stroke-width="0.9"/>
<text x="446.5" y="184.81" font-size="6.8" stroke="#000" stroke-width="0.22" text-anchor="end">4</text>
<line x1="447" y1="169.3" x2="450.4" y2="169.3" stroke="#000" stroke-width="0.9"/>
<text x="446.5" y="171.75" font-size="6.8" stroke="#000" stroke-width="0.22" text-anchor="end">5</text>
<text x="431.7" y="201.1" font-size="7.04" stroke="#000" stroke-width="0.22" text-anchor="middle" transform="rotate(-90 431.7 201.1)">Relative level normalized</text>
<text x="440.1" y="201" font-size="7.04" stroke="#000" stroke-width="0.22" text-anchor="middle" transform="rotate(-90 440.1 201)">with cell protein</text>
<text x="470.4" y="172.5" font-size="6.1" stroke="#000" stroke-width="0.22" text-anchor="middle">p = 0.0013</text>
<line x1="461.6" y1="175.9" x2="479.1" y2="175.9" stroke="#333" stroke-width="1.2"/>
<text x="519.5" y="130.7" font-size="12.5" stroke="#000" stroke-width="0.22" font-weight="bold">h</text>
<line x1="585.65" y1="149" x2="585.65" y2="240" stroke="#e6e6e6" stroke-width="0.5"/>
<line x1="621.6" y1="149" x2="621.6" y2="240" stroke="#e6e6e6" stroke-width="0.5"/>
<line x1="657.55" y1="149" x2="657.55" y2="240" stroke="#e6e6e6" stroke-width="0.5"/>
<line x1="567.68" y1="149" x2="567.68" y2="240" stroke="#f1f1f1" stroke-width="0.4"/>
<line x1="603.62" y1="149" x2="603.62" y2="240" stroke="#f1f1f1" stroke-width="0.4"/>
<line x1="639.58" y1="149" x2="639.58" y2="240" stroke="#f1f1f1" stroke-width="0.4"/>
<line x1="675.53" y1="149" x2="675.53" y2="240" stroke="#f1f1f1" stroke-width="0.4"/>
<line x1="548.7" y1="153.95" x2="683.2" y2="153.95" stroke="#ededed" stroke-width="0.4"/>
<rect x="549.7" y="151" width="129.2" height="5.9" fill="#4682B4"/>
<text x="542.8" y="155.7" font-size="4.95" stroke="#3a3a3a" stroke-width="0.12" text-anchor="end" fill="#3a3a3a">EIF4A2</text>
<line x1="548.7" y1="160.63" x2="683.2" y2="160.63" stroke="#ededed" stroke-width="0.4"/>
<rect x="549.7" y="157.68" width="105.2" height="5.9" fill="#4682B4"/>
<text x="542.8" y="162.38" font-size="4.95" stroke="#3a3a3a" stroke-width="0.12" text-anchor="end" fill="#3a3a3a">CNOT4</text>
<line x1="548.7" y1="167.31" x2="683.2" y2="167.31" stroke="#ededed" stroke-width="0.4"/>
<rect x="549.7" y="164.36" width="89.8" height="5.9" fill="#4682B4"/>
<text x="542.8" y="169.06" font-size="4.95" stroke="#3a3a3a" stroke-width="0.12" text-anchor="end" fill="#3a3a3a">CPSF7</text>
<line x1="548.7" y1="173.99" x2="683.2" y2="173.99" stroke="#ededed" stroke-width="0.4"/>
<rect x="549.7" y="171.04" width="89.5" height="5.9" fill="#4682B4"/>
<text x="542.8" y="175.74" font-size="4.95" stroke="#3a3a3a" stroke-width="0.12" text-anchor="end" fill="#3a3a3a">CNBP</text>
<line x1="548.7" y1="180.67" x2="683.2" y2="180.67" stroke="#ededed" stroke-width="0.4"/>
<rect x="549.7" y="177.72" width="89.3" height="5.9" fill="#4682B4"/>
<text x="542.8" y="182.42" font-size="4.95" stroke="#3a3a3a" stroke-width="0.12" text-anchor="end" fill="#3a3a3a">NFKBIB</text>
<line x1="548.7" y1="187.35" x2="683.2" y2="187.35" stroke="#ededed" stroke-width="0.4"/>
<rect x="549.7" y="184.4" width="87.3" height="5.9" fill="#4682B4"/>
<text x="542.8" y="189.1" font-size="4.95" stroke="#3a3a3a" stroke-width="0.12" text-anchor="end" fill="#3a3a3a">ZNF638</text>
<line x1="548.7" y1="194.03" x2="683.2" y2="194.03" stroke="#ededed" stroke-width="0.4"/>
<rect x="549.7" y="191.08" width="82.2" height="5.9" fill="#4682B4"/>
<text x="542.8" y="195.78" font-size="4.95" stroke="#3a3a3a" stroke-width="0.12" text-anchor="end" fill="#3a3a3a">TRIM25</text>
<line x1="548.7" y1="200.71" x2="683.2" y2="200.71" stroke="#ededed" stroke-width="0.4"/>
<rect x="549.7" y="197.76" width="79.3" height="5.9" fill="#4682B4"/>
<text x="542.8" y="202.46" font-size="4.95" stroke="#3a3a3a" stroke-width="0.12" text-anchor="end" fill="#3a3a3a">SND1</text>
<line x1="548.7" y1="207.39" x2="683.2" y2="207.39" stroke="#ededed" stroke-width="0.4"/>
<rect x="549.7" y="204.44" width="77.3" height="5.9" fill="#4682B4"/>
<text x="542.8" y="209.14" font-size="4.95" stroke="#3a3a3a" stroke-width="0.12" text-anchor="end" fill="#3a3a3a">XRN2</text>
<line x1="548.7" y1="214.07" x2="683.2" y2="214.07" stroke="#ededed" stroke-width="0.4"/>
<rect x="549.7" y="211.12" width="71.3" height="5.9" fill="#4682B4"/>
<text x="542.8" y="215.82" font-size="4.95" stroke="#3a3a3a" stroke-width="0.12" text-anchor="end" fill="#3a3a3a">TRA2B</text>
<line x1="548.7" y1="220.75" x2="683.2" y2="220.75" stroke="#ededed" stroke-width="0.4"/>
<rect x="549.7" y="217.8" width="70.5" height="5.9" fill="#4682B4"/>
<text x="542.8" y="222.5" font-size="4.95" stroke="#3a3a3a" stroke-width="0.12" text-anchor="end" fill="#3a3a3a">TCEA2</text>
<line x1="548.7" y1="227.43" x2="683.2" y2="227.43" stroke="#ededed" stroke-width="0.4"/>
<rect x="549.7" y="224.48" width="64.1" height="5.9" fill="#4682B4"/>
<text x="542.8" y="229.18" font-size="4.95" stroke="#3a3a3a" stroke-width="0.12" text-anchor="end" fill="#3a3a3a">NFKB1</text>
<line x1="548.7" y1="234.11" x2="683.2" y2="234.11" stroke="#ededed" stroke-width="0.4"/>
<rect x="549.7" y="231.16" width="49.2" height="5.9" fill="#4682B4"/>
<text x="542.8" y="235.86" font-size="4.95" stroke="#3a3a3a" stroke-width="0.12" text-anchor="end" fill="#3a3a3a">ADAR</text>
<text x="549.7" y="244.2" font-size="4.6" stroke="#444" stroke-width="0.12" text-anchor="middle" fill="#444">0.00</text>
<text x="585.65" y="244.2" font-size="4.6" stroke="#444" stroke-width="0.12" text-anchor="middle" fill="#444">0.25</text>
<text x="621.6" y="244.2" font-size="4.6" stroke="#444" stroke-width="0.12" text-anchor="middle" fill="#444">0.50</text>
<text x="657.55" y="244.2" font-size="4.6" stroke="#444" stroke-width="0.12" text-anchor="middle" fill="#444">0.75</text>
<text x="616.2" y="251.8" font-size="4.9" stroke="#333" stroke-width="0.12" text-anchor="middle" fill="#333">Log2 Fold Change (logFC)</text>
<text x="519.5" y="197.6" font-size="5.9" stroke="#222" stroke-width="0.22" text-anchor="middle" fill="#222" transform="rotate(-90 519.5 197.6)">Genes</text>
<defs><filter id="blur3" x="-20%" y="-100%" width="140%" height="300%"><feGaussianBlur stdDeviation="0.5"/></filter><filter id="blur5" x="-20%" y="-100%" width="140%" height="300%"><feGaussianBlur stdDeviation="0.75"/></filter><filter id="blur4" x="-20%" y="-100%" width="140%" height="300%"><feGaussianBlur stdDeviation="0.25"/></filter><linearGradient id="gelbg" x1="0" x2="1" y1="0" y2="0"><stop offset="0" stop-color="#161616"/><stop offset="0.15" stop-color="#0d0d0d"/><stop offset="0.5" stop-color="#0b0b0b"/><stop offset="0.85" stop-color="#0e0e0e"/><stop offset="1" stop-color="#151515"/></linearGradient><linearGradient id="smear" x1="0" x2="0" y1="0" y2="1"><stop offset="0" stop-color="#777" stop-opacity="0"/><stop offset="0.6" stop-color="#888" stop-opacity="0.18"/><stop offset="1" stop-color="#aaa" stop-opacity="0.38"/></linearGradient><clipPath id="cgel"><rect x="483.3" y="317.8" width="201.7" height="84.7"/></clipPath></defs>
<text x="7.2" y="288.7" font-size="12.5" stroke="#000" stroke-width="0.22" font-weight="bold">i</text>
<text x="73" y="295.6" font-size="6.48" stroke="#000" stroke-width="0.22" text-anchor="middle">Potential DNA-senors</text>
<line x1="19" y1="305.6" x2="19" y2="390.6" stroke="#000" stroke-width="0.9"/>
<line x1="19" y1="390.2" x2="120" y2="390.2" stroke="#000" stroke-width="0.9"/>
<line x1="15.8" y1="390.2" x2="19" y2="390.2" stroke="#000" stroke-width="0.9"/>
<text x="15.4" y="392.6" font-size="6.45" stroke="#000" stroke-width="0.22" text-anchor="end">0</text>
<line x1="15.8" y1="362.13" x2="19" y2="362.13" stroke="#000" stroke-width="0.9"/>
<text x="15.4" y="364.53" font-size="6.45" stroke="#000" stroke-width="0.22" text-anchor="end">1000</text>
<line x1="15.8" y1="334.07" x2="19" y2="334.07" stroke="#000" stroke-width="0.9"/>
<text x="15.4" y="336.47" font-size="6.45" stroke="#000" stroke-width="0.22" text-anchor="end">2000</text>
<line x1="15.8" y1="306" x2="19" y2="306" stroke="#000" stroke-width="0.9"/>
<text x="15.4" y="308.4" font-size="6.45" stroke="#000" stroke-width="0.22" text-anchor="end">3000</text>
<path d="M26.3 388.5 V332.1 H80 V341.7" stroke="#222" fill="none" stroke-width="0.8"/>
<path d="M57.7 323.2 V311.2 H111.4 V318.8" stroke="#222" fill="none" stroke-width="0.8"/>
<text x="53.3" y="329.3" font-size="5.7" stroke="#000" stroke-width="0.22" text-anchor="middle">p &lt; 0.0001</text>
<text x="84.4" y="308" font-size="5.7" stroke="#000" stroke-width="0.22" text-anchor="middle">p &lt; 0.0001</text>
<line x1="20.7" y1="390.2" x2="25.1" y2="390.2" stroke="#999" stroke-width="0.6"/>
<circle cx="22.9" cy="390.2" r="0.9" fill="#999"/>
<line x1="24.5" y1="390.2" x2="28.9" y2="390.2" stroke="#F47B2A" stroke-width="0.6"/>
<rect x="25.45" y="388.95" width="2.5" height="2.5" fill="#F47B2A"/>
<line x1="28.3" y1="390.2" x2="32.7" y2="390.2" stroke="#aaa" stroke-width="0.6"/>
<polygon points="30.5,389.12 29.51,391.01 31.49,391.01" fill="#aaa"/>
<line x1="32.1" y1="390.2" x2="36.5" y2="390.2" stroke="#aaa" stroke-width="0.6"/>
<polygon points="34.3,391.28 33.31,389.39 35.29,389.39" fill="#aaa"/>
<line x1="35.8" y1="390.2" x2="40.2" y2="390.2" stroke="#999" stroke-width="0.6"/>
<line x1="36.92" y1="390.2" x2="39.08" y2="390.2" stroke="#999" stroke-width="0.6"/>
<line x1="38" y1="389.12" x2="38" y2="391.28" stroke="#999" stroke-width="0.6"/>
<line x1="39.7" y1="390.2" x2="44.1" y2="390.2" stroke="#111" stroke-width="0.6"/>
<circle cx="41.9" cy="390.2" r="1.15" fill="none" stroke="#111" stroke-width="0.7"/>
<line x1="43.5" y1="390.2" x2="47.9" y2="390.2" stroke="#111" stroke-width="0.6"/>
<rect x="44.62" y="389.12" width="2.16" height="2.16" fill="none" stroke="#111" stroke-width="0.7"/>
<line x1="47.3" y1="390.2" x2="51.7" y2="390.2" stroke="#111" stroke-width="0.6"/>
<polygon points="49.5,388.58 48.02,391.41 50.98,391.41" fill="#111"/>
<line x1="51.1" y1="390.2" x2="55.5" y2="390.2" stroke="#111" stroke-width="0.6"/>
<polygon points="53.3,391.82 51.81,388.99 54.78,388.99" fill="#111"/>
<line x1="54.9" y1="390.2" x2="59.3" y2="390.2" stroke="#7A5548" stroke-width="0.6"/>
<polygon points="57.1,388.38 58.5,390.2 57.1,392.02 55.7,390.2" fill="#7A5548"/>
<line x1="58.8" y1="390.2" x2="63.2" y2="390.2" stroke="#000" stroke-width="0.6"/>
<circle cx="61" cy="390.2" r="1.35" fill="#000"/>
<line x1="62.6" y1="390.2" x2="67" y2="390.2" stroke="#bbb" stroke-width="0.6"/>
<polygon points="64.8,389.24 63.92,390.92 65.68,390.92" fill="#bbb"/>
<line x1="67.3" y1="390.2" x2="71.7" y2="390.2" stroke="#000" stroke-width="0.6"/>
<line x1="68.3" y1="390.2" x2="70.7" y2="390.2" stroke="#000" stroke-width="0.6"/>
<line x1="69.5" y1="389" x2="69.5" y2="391.4" stroke="#000" stroke-width="0.6"/>
<line x1="74" y1="390.2" x2="78" y2="390.2" stroke="#999" stroke-width="0.6"/>
<circle cx="76" cy="390.2" r="0.9" fill="#999"/>
<line x1="82" y1="390.2" x2="86" y2="390.2" stroke="#aaa" stroke-width="0.6"/>
<polygon points="84,389.12 83.01,391.01 84.99,391.01" fill="#aaa"/>
<line x1="85.6" y1="390.2" x2="89.6" y2="390.2" stroke="#aaa" stroke-width="0.6"/>
<polygon points="87.6,391.28 86.61,389.39 88.59,389.39" fill="#aaa"/>
<line x1="89.4" y1="390.2" x2="93.4" y2="390.2" stroke="#999" stroke-width="0.6"/>
<line x1="90.32" y1="390.2" x2="92.48" y2="390.2" stroke="#999" stroke-width="0.6"/>
<line x1="91.4" y1="389.12" x2="91.4" y2="391.28" stroke="#999" stroke-width="0.6"/>
<line x1="93.2" y1="390.2" x2="97.2" y2="390.2" stroke="#111" stroke-width="0.6"/>
<circle cx="95.2" cy="390.2" r="1.15" fill="none" stroke="#111" stroke-width="0.7"/>
<line x1="97" y1="390.2" x2="101" y2="390.2" stroke="#111" stroke-width="0.6"/>
<rect x="97.92" y="389.12" width="2.16" height="2.16" fill="none" stroke="#111" stroke-width="0.7"/>
<line x1="100.9" y1="390.2" x2="104.9" y2="390.2" stroke="#111" stroke-width="0.6"/>
<polygon points="102.9,388.58 101.42,391.41 104.39,391.41" fill="#111"/>
<line x1="104.7" y1="390.2" x2="108.7" y2="390.2" stroke="#111" stroke-width="0.6"/>
<polygon points="106.7,391.82 105.22,388.99 108.19,388.99" fill="#111"/>
<line x1="112.8" y1="390.2" x2="116.8" y2="390.2" stroke="#000" stroke-width="0.6"/>
<circle cx="114.8" cy="390.2" r="1.35" fill="#000"/>
<line x1="115.5" y1="390.2" x2="119.5" y2="390.2" stroke="#bbb" stroke-width="0.6"/>
<polygon points="117.5,389.24 116.62,390.92 118.38,390.92" fill="#bbb"/>
<line x1="117.5" y1="390.2" x2="121.5" y2="390.2" stroke="#000" stroke-width="0.6"/>
<line x1="118.3" y1="390.2" x2="120.7" y2="390.2" stroke="#000" stroke-width="0.6"/>
<line x1="119.5" y1="389" x2="119.5" y2="391.4" stroke="#000" stroke-width="0.6"/>
<line x1="80" y1="364" x2="80" y2="389.5" stroke="#111" stroke-width="0.45"/>
<line x1="78.7" y1="364" x2="81.3" y2="364" stroke="#111" stroke-width="0.45"/>
<line x1="78.2" y1="371.2" x2="81.8" y2="371.2" stroke="#111" stroke-width="0.45"/>
<rect x="78.75" y="344.75" width="2.5" height="2.5" fill="#F47B2A"/>
<rect x="78.75" y="350.85" width="2.5" height="2.5" fill="#F47B2A"/>
<rect x="78.75" y="376.05" width="2.5" height="2.5" fill="#F47B2A"/>
<rect x="78.75" y="379.45" width="2.5" height="2.5" fill="#F47B2A"/>
<rect x="78.75" y="382.35" width="2.5" height="2.5" fill="#F47B2A"/>
<rect x="78.75" y="385.15" width="2.5" height="2.5" fill="#F47B2A"/>
<rect x="78.75" y="387.55" width="2.5" height="2.5" fill="#F47B2A"/>
<line x1="111" y1="342.6" x2="111" y2="361.7" stroke="#111" stroke-width="0.45"/>
<line x1="109.7" y1="342.6" x2="112.3" y2="342.6" stroke="#111" stroke-width="0.45"/>
<line x1="109.7" y1="361.7" x2="112.3" y2="361.7" stroke="#111" stroke-width="0.45"/>
<line x1="109.2" y1="352.5" x2="112.8" y2="352.5" stroke="#111" stroke-width="0.45"/>
<circle cx="111" cy="323.2" r="1.45" fill="#7A5548"/>
<circle cx="111" cy="329.9" r="1.45" fill="#7A5548"/>
<circle cx="111" cy="348" r="1.45" fill="#7A5548"/>
<circle cx="111" cy="365.9" r="1.45" fill="#7A5548"/>
<circle cx="111" cy="371.2" r="1.45" fill="#7A5548"/>
<circle cx="111" cy="376.9" r="1.45" fill="#7A5548"/>
<line x1="91.4" y1="381.6" x2="91.4" y2="388.3" stroke="#555" stroke-width="0.45"/>
<line x1="90.2" y1="385" x2="92.6" y2="385" stroke="#555" stroke-width="0.45"/>
<line x1="90.2" y1="376.5" x2="92.6" y2="376.5" stroke="#999" stroke-width="0.6"/>
<line x1="91.4" y1="375.3" x2="91.4" y2="377.7" stroke="#999" stroke-width="0.6"/>
<line x1="90.2" y1="379.8" x2="92.6" y2="379.8" stroke="#999" stroke-width="0.6"/>
<line x1="91.4" y1="378.6" x2="91.4" y2="381" stroke="#999" stroke-width="0.6"/>
<line x1="90.2" y1="384" x2="92.6" y2="384" stroke="#999" stroke-width="0.6"/>
<line x1="91.4" y1="382.8" x2="91.4" y2="385.2" stroke="#999" stroke-width="0.6"/>
<line x1="90.2" y1="387" x2="92.6" y2="387" stroke="#999" stroke-width="0.6"/>
<line x1="91.4" y1="385.8" x2="91.4" y2="388.2" stroke="#999" stroke-width="0.6"/>
<polygon points="102.9,378.36 101.58,380.88 104.22,380.88" fill="#111"/>
<polygon points="102.9,381.16 101.58,383.68 104.22,383.68" fill="#111"/>
<polygon points="102.9,383.06 101.58,385.58 104.22,385.58" fill="#111"/>
<polygon points="102.9,384.96 101.58,387.48 104.22,387.48" fill="#111"/>
<polygon points="102.9,386.86 101.58,389.38 104.22,389.38" fill="#111"/>
<rect x="94.16" y="387.36" width="2.08" height="2.08" fill="none" stroke="#111" stroke-width="0.7"/>
<rect x="97.96" y="387.36" width="2.08" height="2.08" fill="none" stroke="#111" stroke-width="0.7"/>
<polygon points="106.7,390.04 105.38,387.52 108.02,387.52" fill="#111"/>
<text x="46.3" y="399.2" font-size="6.6" stroke="#000" stroke-width="0.22" text-anchor="middle">HC</text>
<text x="99" y="399.2" font-size="6.6" stroke="#000" stroke-width="0.22" text-anchor="middle">SLE</text>
<text x="72.4" y="408" font-size="6.6" stroke="#000" stroke-width="0.22" text-anchor="middle">Rel. exp.</text>
<circle cx="129.3" cy="285.5" r="0.9" fill="#999"/>
<text x="136.5" y="287.7" font-size="6.5" stroke="#000" stroke-width="0.22" font-style="italic">ADAR</text>
<rect x="128.05" y="293.87" width="2.5" height="2.5" fill="#F47B2A"/>
<text x="136.5" y="297.32" font-size="6.5" stroke="#000" stroke-width="0.22" font-style="italic">CNBP</text>
<polygon points="129.3,303.66 128.31,305.55 130.29,305.55" fill="#aaa"/>
<text x="136.5" y="306.94" font-size="6.5" stroke="#000" stroke-width="0.22" font-style="italic">CNOT4</text>
<polygon points="129.3,315.44 128.31,313.55 130.29,313.55" fill="#aaa"/>
<text x="136.5" y="316.56" font-size="6.5" stroke="#000" stroke-width="0.22" font-style="italic">CPSF7</text>
<line x1="128.22" y1="323.98" x2="130.38" y2="323.98" stroke="#999" stroke-width="0.6"/>
<line x1="129.3" y1="322.9" x2="129.3" y2="325.06" stroke="#999" stroke-width="0.6"/>
<text x="136.5" y="326.18" font-size="6.5" stroke="#000" stroke-width="0.22" font-style="italic">EIF4A2</text>
<circle cx="129.3" cy="333.6" r="1.15" fill="none" stroke="#111" stroke-width="0.7"/>
<text x="136.5" y="335.8" font-size="6.5" stroke="#000" stroke-width="0.22" font-style="italic">NFKB1</text>
<rect x="128.22" y="342.14" width="2.16" height="2.16" fill="none" stroke="#111" stroke-width="0.7"/>
<text x="136.5" y="345.42" font-size="6.5" stroke="#000" stroke-width="0.22" font-style="italic">NFKB1B</text>
<polygon points="129.3,351.22 127.82,354.05 130.79,354.05" fill="#111"/>
<text x="136.5" y="355.04" font-size="6.5" stroke="#000" stroke-width="0.22" font-style="italic">SND1</text>
<polygon points="129.3,364.08 127.82,361.25 130.79,361.25" fill="#111"/>
<text x="136.5" y="364.66" font-size="6.5" stroke="#000" stroke-width="0.22" font-style="italic">TCEA2</text>
<polygon points="129.3,370.26 130.7,372.08 129.3,373.9 127.9,372.08" fill="#7A5548"/>
<text x="136.5" y="374.28" font-size="6.5" stroke="#000" stroke-width="0.22" font-style="italic">TRA2B</text>
<circle cx="129.3" cy="381.7" r="1.35" fill="#000"/>
<text x="136.5" y="383.9" font-size="6.5" stroke="#000" stroke-width="0.22" font-style="italic">TRIM25</text>
<polygon points="129.3,390.36 128.42,392.04 130.18,392.04" fill="#bbb"/>
<text x="136.5" y="393.52" font-size="6.5" stroke="#000" stroke-width="0.22" font-style="italic">XRN2</text>
<line x1="128.1" y1="400.94" x2="130.5" y2="400.94" stroke="#000" stroke-width="0.6"/>
<line x1="129.3" y1="399.74" x2="129.3" y2="402.14" stroke="#000" stroke-width="0.6"/>
<text x="136.5" y="403.14" font-size="6.5" stroke="#000" stroke-width="0.22" font-style="italic">ZNF638</text>
<text x="176" y="288.7" font-size="12.5" stroke="#000" stroke-width="0.22" font-weight="bold">j</text>
<rect x="225.3" y="272.6" width="5.9" height="4.6" fill="#FDC48F"/>
<text x="234.2" y="277.39" font-size="7.55" stroke="#000" stroke-width="0.22">MC-siNC</text>
<rect x="225.3" y="283.6" width="5.9" height="4.6" fill="#C3E6BE"/>
<text x="234.2" y="288.39" font-size="7.55" stroke="#000" stroke-width="0.22">MC-siTRA2B #2</text>
<rect x="225.3" y="295.1" width="5.9" height="4.6" fill="#109E6A"/>
<text x="234.2" y="299.89" font-size="7.55" stroke="#000" stroke-width="0.22">MC-siCNBP #3</text>
<text x="217.5" y="308.9" font-size="7.2" stroke="#000" stroke-width="0.22" text-anchor="middle">Lactic acid</text>
<rect x="201.2" y="345.43" width="8.3" height="57.77" fill="#FDC48F"/>
<rect x="213.8" y="352.9" width="8.2" height="50.3" fill="#C3E6BE"/>
<rect x="226.2" y="369.2" width="8.5" height="34" fill="#109E6A"/>
<line x1="205.35" y1="343.5" x2="205.35" y2="347.37" stroke="#F26B1D" stroke-width="0.7"/>
<line x1="202.75" y1="343.5" x2="207.95" y2="343.5" stroke="#F26B1D" stroke-width="0.7"/>
<line x1="202.75" y1="347.37" x2="207.95" y2="347.37" stroke="#F26B1D" stroke-width="0.7"/>
<line x1="202.23" y1="345.43" x2="208.47" y2="345.43" stroke="#F26B1D" stroke-width="0.7"/>
<circle cx="205.35" cy="337.97" r="1" fill="#F26B1D"/>
<circle cx="203.85" cy="340.18" r="1" fill="#F26B1D"/>
<circle cx="207.35" cy="342.39" r="1" fill="#F26B1D"/>
<circle cx="202.85" cy="345.16" r="1" fill="#F26B1D"/>
<circle cx="207.85" cy="346.54" r="1" fill="#F26B1D"/>
<circle cx="205.35" cy="347.92" r="1" fill="#F26B1D"/>
<circle cx="203.35" cy="348.75" r="1" fill="#F26B1D"/>
<circle cx="207.35" cy="349.3" r="1" fill="#F26B1D"/>
<line x1="217.9" y1="350.96" x2="217.9" y2="354.83" stroke="#1A9641" stroke-width="0.7"/>
<line x1="215.3" y1="350.96" x2="220.5" y2="350.96" stroke="#1A9641" stroke-width="0.7"/>
<line x1="215.3" y1="354.83" x2="220.5" y2="354.83" stroke="#1A9641" stroke-width="0.7"/>
<line x1="214.78" y1="352.9" x2="221.02" y2="352.9" stroke="#1A9641" stroke-width="0.7"/>
<rect x="216.9" y="345.54" width="2" height="2" fill="#1A9641"/>
<rect x="213.9" y="351.07" width="2" height="2" fill="#1A9641"/>
<rect x="219.9" y="351.07" width="2" height="2" fill="#1A9641"/>
<rect x="216.9" y="353" width="2" height="2" fill="#1A9641"/>
<rect x="215.4" y="354.66" width="2" height="2" fill="#1A9641"/>
<rect x="218.4" y="357.42" width="2" height="2" fill="#1A9641"/>
<line x1="230.45" y1="367.27" x2="230.45" y2="371.14" stroke="#0B7A48" stroke-width="0.7"/>
<line x1="227.85" y1="367.27" x2="233.05" y2="367.27" stroke="#0B7A48" stroke-width="0.7"/>
<line x1="227.85" y1="371.14" x2="233.05" y2="371.14" stroke="#0B7A48" stroke-width="0.7"/>
<line x1="227.33" y1="369.2" x2="233.57" y2="369.2" stroke="#0B7A48" stroke-width="0.7"/>
<polygon points="230.45,357.68 231.45,358.98 230.45,360.28 229.45,358.98" fill="#0B7A48"/>
<polygon points="230.45,361.82 231.45,363.12 230.45,364.42 229.45,363.12" fill="#0B7A48"/>
<polygon points="227.95,367.35 228.95,368.65 227.95,369.95 226.95,368.65" fill="#0B7A48"/>
<polygon points="232.95,368.73 233.95,370.03 232.95,371.33 231.95,370.03" fill="#0B7A48"/>
<polygon points="230.45,370.11 231.45,371.41 230.45,372.71 229.45,371.41" fill="#0B7A48"/>
<polygon points="228.45,371.5 229.45,372.8 228.45,374.1 227.45,372.8" fill="#0B7A48"/>
<polygon points="232.45,372.05 233.45,373.35 232.45,374.65 231.45,373.35" fill="#0B7A48"/>
<line x1="196" y1="333.7" x2="196" y2="403.6" stroke="#000" stroke-width="0.9"/>
<line x1="196" y1="403.2" x2="238.1" y2="403.2" stroke="#000" stroke-width="0.9"/>
<line x1="192.6" y1="403.2" x2="196" y2="403.2" stroke="#000" stroke-width="0.9"/>
<text x="192.1" y="405.83" font-size="7.3" stroke="#000" stroke-width="0.22" text-anchor="end">0.0</text>
<line x1="192.6" y1="389.38" x2="196" y2="389.38" stroke="#000" stroke-width="0.9"/>
<text x="192.1" y="392.01" font-size="7.3" stroke="#000" stroke-width="0.22" text-anchor="end">0.5</text>
<line x1="192.6" y1="375.56" x2="196" y2="375.56" stroke="#000" stroke-width="0.9"/>
<text x="192.1" y="378.19" font-size="7.3" stroke="#000" stroke-width="0.22" text-anchor="end">1.0</text>
<line x1="192.6" y1="361.74" x2="196" y2="361.74" stroke="#000" stroke-width="0.9"/>
<text x="192.1" y="364.37" font-size="7.3" stroke="#000" stroke-width="0.22" text-anchor="end">1.5</text>
<line x1="192.6" y1="347.92" x2="196" y2="347.92" stroke="#000" stroke-width="0.9"/>
<text x="192.1" y="350.55" font-size="7.3" stroke="#000" stroke-width="0.22" text-anchor="end">2.0</text>
<line x1="192.6" y1="334.1" x2="196" y2="334.1" stroke="#000" stroke-width="0.9"/>
<text x="192.1" y="336.73" font-size="7.3" stroke="#000" stroke-width="0.22" text-anchor="end">2.5</text>
<text x="176.9" y="367" font-size="7.35" stroke="#000" stroke-width="0.22" text-anchor="middle" transform="rotate(-90 176.9 367)">mmol/g prot</text>
<text x="217.9" y="320.3" font-size="6.4" stroke="#000" stroke-width="0.22" text-anchor="middle">p = 0.0014</text>
<line x1="205.5" y1="324.7" x2="231.2" y2="324.7" stroke="#333" stroke-width="1"/>
<text x="211.9" y="330.8" font-size="6.4" stroke="#000" stroke-width="0.22" text-anchor="middle">p = 0.9519</text>
<line x1="205.5" y1="335.1" x2="218" y2="335.1" stroke="#333" stroke-width="1"/>
<text x="217.9" y="411" font-size="7.33" stroke="#000" stroke-width="0.22" text-anchor="middle">SLE plasma</text>
<text x="297.3" y="308.5" font-size="7.45" stroke="#000" stroke-width="0.22" text-anchor="middle">Lactate released</text>
<rect x="280.5" y="353.94" width="8.5" height="48.26" fill="#FDC48F"/>
<rect x="293.4" y="361.84" width="8.2" height="40.36" fill="#C3E6BE"/>
<rect x="305.8" y="377.12" width="8.3" height="25.08" fill="#109E6A"/>
<line x1="284.75" y1="352.22" x2="284.75" y2="355.66" stroke="#F26B1D" stroke-width="0.7"/>
<line x1="282.15" y1="352.22" x2="287.35" y2="352.22" stroke="#F26B1D" stroke-width="0.7"/>
<line x1="282.15" y1="355.66" x2="287.35" y2="355.66" stroke="#F26B1D" stroke-width="0.7"/>
<line x1="281.63" y1="353.94" x2="287.87" y2="353.94" stroke="#F26B1D" stroke-width="0.7"/>
<circle cx="282.25" cy="348.96" r="1" fill="#F26B1D"/>
<circle cx="284.75" cy="350.68" r="1" fill="#F26B1D"/>
<circle cx="287.25" cy="351.53" r="1" fill="#F26B1D"/>
<circle cx="282.75" cy="354.11" r="1" fill="#F26B1D"/>
<circle cx="286.75" cy="354.97" r="1" fill="#F26B1D"/>
<circle cx="284.75" cy="356.69" r="1" fill="#F26B1D"/>
<circle cx="283.25" cy="359.26" r="1" fill="#F26B1D"/>
<circle cx="286.25" cy="358.4" r="1" fill="#F26B1D"/>
<line x1="297.5" y1="358.4" x2="297.5" y2="365.27" stroke="#1A9641" stroke-width="0.7"/>
<line x1="294.9" y1="358.4" x2="300.1" y2="358.4" stroke="#1A9641" stroke-width="0.7"/>
<line x1="294.9" y1="365.27" x2="300.1" y2="365.27" stroke="#1A9641" stroke-width="0.7"/>
<line x1="294.38" y1="361.84" x2="300.62" y2="361.84" stroke="#1A9641" stroke-width="0.7"/>
<polygon points="295,351.09 296,352.39 295,353.69 294,352.39" fill="#1A9641"/>
<polygon points="298.5,352.81 299.5,354.11 298.5,355.41 297.5,354.11" fill="#1A9641"/>
<polygon points="300,360.54 301,361.84 300,363.14 299,361.84" fill="#1A9641"/>
<polygon points="295.5,364.83 296.5,366.13 295.5,367.43 294.5,366.13" fill="#1A9641"/>
<polygon points="297.5,366.55 298.5,367.85 297.5,369.15 296.5,367.85" fill="#1A9641"/>
<polygon points="300,367.41 301,368.71 300,370.01 299,368.71" fill="#1A9641"/>
<polygon points="295,368.27 296,369.57 295,370.87 294,369.57" fill="#1A9641"/>
<line x1="309.95" y1="375.41" x2="309.95" y2="378.84" stroke="#0B7A48" stroke-width="0.7"/>
<line x1="307.35" y1="375.41" x2="312.55" y2="375.41" stroke="#0B7A48" stroke-width="0.7"/>
<line x1="307.35" y1="378.84" x2="312.55" y2="378.84" stroke="#0B7A48" stroke-width="0.7"/>
<line x1="306.83" y1="377.12" x2="313.07" y2="377.12" stroke="#0B7A48" stroke-width="0.7"/>
<polygon points="307.95,366.89 308.95,368.19 307.95,369.49 306.95,368.19" fill="#0B7A48"/>
<polygon points="311.95,366.89 312.95,368.19 311.95,369.49 310.95,368.19" fill="#0B7A48"/>
<polygon points="307.45,376.85 308.45,378.15 307.45,379.45 306.45,378.15" fill="#0B7A48"/>
<polygon points="309.95,376.85 310.95,378.15 309.95,379.45 308.95,378.15" fill="#0B7A48"/>
<polygon points="312.45,376.85 313.45,378.15 312.45,379.45 311.45,378.15" fill="#0B7A48"/>
<polygon points="307.95,379.43 308.95,380.73 307.95,382.03 306.95,380.73" fill="#0B7A48"/>
<polygon points="311.95,379.43 312.95,380.73 311.95,382.03 310.95,380.73" fill="#0B7A48"/>
<line x1="275.6" y1="333.1" x2="275.6" y2="402.6" stroke="#000" stroke-width="0.9"/>
<line x1="275.6" y1="402.2" x2="318" y2="402.2" stroke="#000" stroke-width="0.9"/>
<line x1="272.2" y1="402.2" x2="275.6" y2="402.2" stroke="#000" stroke-width="0.9"/>
<text x="271.7" y="404.83" font-size="7.3" stroke="#000" stroke-width="0.22" text-anchor="end">0</text>
<line x1="272.2" y1="385.02" x2="275.6" y2="385.02" stroke="#000" stroke-width="0.9"/>
<text x="271.7" y="387.65" font-size="7.3" stroke="#000" stroke-width="0.22" text-anchor="end">1</text>
<line x1="272.2" y1="367.85" x2="275.6" y2="367.85" stroke="#000" stroke-width="0.9"/>
<text x="271.7" y="370.48" font-size="7.3" stroke="#000" stroke-width="0.22" text-anchor="end">2</text>
<line x1="272.2" y1="350.68" x2="275.6" y2="350.68" stroke="#000" stroke-width="0.9"/>
<text x="271.7" y="353.3" font-size="7.3" stroke="#000" stroke-width="0.22" text-anchor="end">3</text>
<line x1="272.2" y1="333.5" x2="275.6" y2="333.5" stroke="#000" stroke-width="0.9"/>
<text x="271.7" y="336.13" font-size="7.3" stroke="#000" stroke-width="0.22" text-anchor="end">4</text>
<text x="297.6" y="319.9" font-size="6.4" stroke="#000" stroke-width="0.22" text-anchor="middle">p = 0.0081</text>
<line x1="285.5" y1="324.3" x2="310.1" y2="324.3" stroke="#333" stroke-width="1"/>
<text x="291.7" y="330.6" font-size="6.4" stroke="#000" stroke-width="0.22" text-anchor="middle">p = 0.4008</text>
<line x1="285.5" y1="334.7" x2="297.9" y2="334.7" stroke="#333" stroke-width="1"/>
<text x="297.3" y="411" font-size="7.33" stroke="#000" stroke-width="0.22" text-anchor="middle">SLE plasma</text>
<text x="254.3" y="367" font-size="7.4" stroke="#000" stroke-width="0.22" text-anchor="middle" transform="rotate(-90 254.3 367)">Relative level normalized</text>
<text x="263.4" y="366.7" font-size="7.4" stroke="#000" stroke-width="0.22" text-anchor="middle" transform="rotate(-90 263.4 366.7)">with cell protein</text>
<text x="331.4" y="288.7" font-size="12.5" stroke="#000" stroke-width="0.22" font-weight="bold">k</text>
<rect x="378.9" y="274" width="5.8" height="4.6" fill="#FFA7A7"/>
<text x="387.6" y="278.78" font-size="7.52" stroke="#000" stroke-width="0.22">MC-siNC</text>
<rect x="378.9" y="285.5" width="5.8" height="4.6" fill="#D9B5B5"/>
<text x="387.6" y="290.28" font-size="7.52" stroke="#000" stroke-width="0.22">MC-siTRA2B #2</text>
<rect x="378.9" y="296.9" width="5.8" height="4.6" fill="#F53D3D"/>
<text x="387.6" y="301.68" font-size="7.52" stroke="#000" stroke-width="0.22">MC-siCNBP #3</text>
<rect x="360" y="357.79" width="8.1" height="45.81" fill="#FFA7A7"/>
<rect x="372.4" y="360.41" width="8.3" height="43.19" fill="#D9B5B5"/>
<rect x="384.9" y="380.52" width="8.3" height="23.08" fill="#F53D3D"/>
<line x1="364.05" y1="354.68" x2="364.05" y2="360.9" stroke="#F03C2D" stroke-width="0.7"/>
<line x1="361.45" y1="354.68" x2="366.65" y2="354.68" stroke="#F03C2D" stroke-width="0.7"/>
<line x1="361.45" y1="360.9" x2="366.65" y2="360.9" stroke="#F03C2D" stroke-width="0.7"/>
<line x1="360.93" y1="357.79" x2="367.17" y2="357.79" stroke="#F03C2D" stroke-width="0.7"/>
<circle cx="364.05" cy="340.03" r="1" fill="#F03C2D"/>
<circle cx="361.55" cy="355.23" r="1" fill="#F03C2D"/>
<circle cx="366.55" cy="354.54" r="1" fill="#F03C2D"/>
<circle cx="364.05" cy="357.99" r="1" fill="#F03C2D"/>
<circle cx="362.05" cy="361.45" r="1" fill="#F03C2D"/>
<circle cx="366.05" cy="362.83" r="1" fill="#F03C2D"/>
<circle cx="364.05" cy="366.29" r="1" fill="#F03C2D"/>
<circle cx="364.05" cy="369.05" r="1" fill="#F03C2D"/>
<line x1="376.55" y1="356.27" x2="376.55" y2="364.56" stroke="#A01560" stroke-width="0.7"/>
<line x1="373.95" y1="356.27" x2="379.15" y2="356.27" stroke="#A01560" stroke-width="0.7"/>
<line x1="373.95" y1="364.56" x2="379.15" y2="364.56" stroke="#A01560" stroke-width="0.7"/>
<line x1="373.43" y1="360.41" x2="379.67" y2="360.41" stroke="#A01560" stroke-width="0.7"/>
<polygon points="376.55,341.49 377.55,342.79 376.55,344.09 375.55,342.79" fill="#A01560"/>
<polygon points="376.55,344.26 377.55,345.56 376.55,346.86 375.55,345.56" fill="#A01560"/>
<polygon points="376.55,355.31 377.55,356.61 376.55,357.91 375.55,356.61" fill="#A01560"/>
<polygon points="374.55,361.53 375.55,362.83 374.55,364.13 373.55,362.83" fill="#A01560"/>
<polygon points="378.55,363.6 379.55,364.9 378.55,366.2 377.55,364.9" fill="#A01560"/>
<polygon points="376.55,368.44 377.55,369.74 376.55,371.04 375.55,369.74" fill="#A01560"/>
<polygon points="376.55,378.12 377.55,379.42 376.55,380.72 375.55,379.42" fill="#A01560"/>
<line x1="389.05" y1="378.1" x2="389.05" y2="382.94" stroke="#B01515" stroke-width="0.7"/>
<line x1="386.45" y1="378.1" x2="391.65" y2="378.1" stroke="#B01515" stroke-width="0.7"/>
<line x1="386.45" y1="382.94" x2="391.65" y2="382.94" stroke="#B01515" stroke-width="0.7"/>
<line x1="385.93" y1="380.52" x2="392.17" y2="380.52" stroke="#B01515" stroke-width="0.7"/>
<circle cx="389.05" cy="369.4" r="1" fill="#B01515"/>
<circle cx="386.55" cy="373.89" r="1" fill="#B01515"/>
<circle cx="391.55" cy="375.96" r="1" fill="#B01515"/>
<circle cx="389.05" cy="379.42" r="1" fill="#B01515"/>
<circle cx="386.55" cy="381.49" r="1" fill="#B01515"/>
<circle cx="391.55" cy="383.56" r="1" fill="#B01515"/>
<circle cx="389.05" cy="387.71" r="1" fill="#B01515"/>
<circle cx="389.05" cy="392.54" r="1" fill="#B01515"/>
<line x1="355.1" y1="334.1" x2="355.1" y2="404" stroke="#000" stroke-width="0.9"/>
<line x1="355.1" y1="403.6" x2="396.7" y2="403.6" stroke="#000" stroke-width="0.9"/>
<line x1="351.7" y1="403.6" x2="355.1" y2="403.6" stroke="#000" stroke-width="0.9"/>
<text x="351.2" y="406.23" font-size="7.3" stroke="#000" stroke-width="0.22" text-anchor="end">0</text>
<line x1="351.7" y1="389.78" x2="355.1" y2="389.78" stroke="#000" stroke-width="0.9"/>
<text x="351.2" y="392.41" font-size="7.3" stroke="#000" stroke-width="0.22" text-anchor="end">2</text>
<line x1="351.7" y1="375.96" x2="355.1" y2="375.96" stroke="#000" stroke-width="0.9"/>
<text x="351.2" y="378.59" font-size="7.3" stroke="#000" stroke-width="0.22" text-anchor="end">4</text>
<line x1="351.7" y1="362.14" x2="355.1" y2="362.14" stroke="#000" stroke-width="0.9"/>
<text x="351.2" y="364.77" font-size="7.3" stroke="#000" stroke-width="0.22" text-anchor="end">6</text>
<line x1="351.7" y1="348.32" x2="355.1" y2="348.32" stroke="#000" stroke-width="0.9"/>
<text x="351.2" y="350.95" font-size="7.3" stroke="#000" stroke-width="0.22" text-anchor="end">8</text>
<line x1="351.7" y1="334.5" x2="355.1" y2="334.5" stroke="#000" stroke-width="0.9"/>
<text x="351.2" y="337.13" font-size="7.3" stroke="#000" stroke-width="0.22" text-anchor="end">10</text>
<text x="339.9" y="368" font-size="7.35" stroke="#000" stroke-width="0.22" text-anchor="middle" transform="rotate(-90 339.9 368)">BCL6 (% CD4)</text>
<text x="376.7" y="320.3" font-size="6.4" stroke="#000" stroke-width="0.22" text-anchor="middle">p = 0.0032</text>
<line x1="363.9" y1="324.7" x2="389.2" y2="324.7" stroke="#333" stroke-width="1"/>
<text x="370.6" y="330.8" font-size="6.4" stroke="#000" stroke-width="0.22" text-anchor="middle">p = 0.4282</text>
<line x1="363.9" y1="335.5" x2="376.8" y2="335.5" stroke="#333" stroke-width="1"/>
<text x="376.6" y="411" font-size="6.53" stroke="#000" stroke-width="0.22" text-anchor="middle">SLE plasma</text>
<rect x="433" y="356.78" width="8" height="46.82" fill="#FFA7A7"/>
<rect x="445.4" y="357.42" width="8.3" height="46.18" fill="#D9B5B5"/>
<rect x="457.8" y="371.64" width="8.3" height="31.96" fill="#F53D3D"/>
<line x1="437" y1="353.62" x2="437" y2="359.95" stroke="#F03C2D" stroke-width="0.7"/>
<line x1="434.4" y1="353.62" x2="439.6" y2="353.62" stroke="#F03C2D" stroke-width="0.7"/>
<line x1="434.4" y1="359.95" x2="439.6" y2="359.95" stroke="#F03C2D" stroke-width="0.7"/>
<line x1="433.88" y1="356.78" x2="440.12" y2="356.78" stroke="#F03C2D" stroke-width="0.7"/>
<circle cx="437" cy="340.26" r="1" fill="#F03C2D"/>
<circle cx="434.5" cy="350.05" r="1" fill="#F03C2D"/>
<circle cx="439.5" cy="351.77" r="1" fill="#F03C2D"/>
<circle cx="437" cy="355.81" r="1" fill="#F03C2D"/>
<circle cx="434.5" cy="359.84" r="1" fill="#F03C2D"/>
<circle cx="439.5" cy="361.56" r="1" fill="#F03C2D"/>
<circle cx="437" cy="364.44" r="1" fill="#F03C2D"/>
<circle cx="436" cy="367.9" r="1" fill="#F03C2D"/>
<line x1="449.55" y1="355.4" x2="449.55" y2="359.43" stroke="#A01560" stroke-width="0.7"/>
<line x1="446.95" y1="355.4" x2="452.15" y2="355.4" stroke="#A01560" stroke-width="0.7"/>
<line x1="446.95" y1="359.43" x2="452.15" y2="359.43" stroke="#A01560" stroke-width="0.7"/>
<line x1="446.43" y1="357.42" x2="452.67" y2="357.42" stroke="#A01560" stroke-width="0.7"/>
<polygon points="449.55,347.6 450.55,348.9 449.55,350.2 448.55,348.9" fill="#A01560"/>
<polygon points="449.55,350.47 450.55,351.77 449.55,353.07 448.55,351.77" fill="#A01560"/>
<polygon points="447.05,354.51 448.05,355.81 447.05,357.11 446.05,355.81" fill="#A01560"/>
<polygon points="452.05,355.66 453.05,356.96 452.05,358.26 451.05,356.96" fill="#A01560"/>
<polygon points="447.05,359.11 448.05,360.41 447.05,361.71 446.05,360.41" fill="#A01560"/>
<polygon points="449.55,359.69 450.55,360.99 449.55,362.29 448.55,360.99" fill="#A01560"/>
<polygon points="452.05,359.11 453.05,360.41 452.05,361.71 451.05,360.41" fill="#A01560"/>
<line x1="461.95" y1="369.34" x2="461.95" y2="373.94" stroke="#B01515" stroke-width="0.7"/>
<line x1="459.35" y1="369.34" x2="464.55" y2="369.34" stroke="#B01515" stroke-width="0.7"/>
<line x1="459.35" y1="373.94" x2="464.55" y2="373.94" stroke="#B01515" stroke-width="0.7"/>
<line x1="458.83" y1="371.64" x2="465.07" y2="371.64" stroke="#B01515" stroke-width="0.7"/>
<circle cx="461.95" cy="361.56" r="1" fill="#B01515"/>
<circle cx="459.45" cy="363.87" r="1" fill="#B01515"/>
<circle cx="464.45" cy="365.6" r="1" fill="#B01515"/>
<circle cx="461.95" cy="371.35" r="1" fill="#B01515"/>
<circle cx="459.45" cy="374.81" r="1" fill="#B01515"/>
<circle cx="464.45" cy="375.38" r="1" fill="#B01515"/>
<circle cx="461.95" cy="378.26" r="1" fill="#B01515"/>
<circle cx="460.95" cy="380.57" r="1" fill="#B01515"/>
<line x1="428.2" y1="334.1" x2="428.2" y2="404" stroke="#000" stroke-width="0.9"/>
<line x1="428.2" y1="403.6" x2="469.5" y2="403.6" stroke="#000" stroke-width="0.9"/>
<line x1="424.8" y1="403.6" x2="428.2" y2="403.6" stroke="#000" stroke-width="0.9"/>
<text x="424.3" y="406.23" font-size="7.3" stroke="#000" stroke-width="0.22" text-anchor="end">0</text>
<line x1="424.8" y1="380.57" x2="428.2" y2="380.57" stroke="#000" stroke-width="0.9"/>
<text x="424.3" y="383.19" font-size="7.3" stroke="#000" stroke-width="0.22" text-anchor="end">4</text>
<line x1="424.8" y1="357.53" x2="428.2" y2="357.53" stroke="#000" stroke-width="0.9"/>
<text x="424.3" y="360.16" font-size="7.3" stroke="#000" stroke-width="0.22" text-anchor="end">8</text>
<line x1="424.8" y1="334.5" x2="428.2" y2="334.5" stroke="#000" stroke-width="0.9"/>
<text x="424.3" y="337.13" font-size="7.3" stroke="#000" stroke-width="0.22" text-anchor="end">12</text>
<text x="412.8" y="367.2" font-size="7.35" stroke="#000" stroke-width="0.22" text-anchor="middle" transform="rotate(-90 412.8 367.2)">CXCR5<tspan font-size="72%" dy="-2.4" stroke-width="0.12">hi</tspan><tspan dy="2.4">PD-1</tspan><tspan font-size="72%" dy="-2.4" stroke-width="0.12">hi</tspan><tspan dy="2.4"> (% CD4)</tspan></text>
<text x="449.4" y="320.3" font-size="6.4" stroke="#000" stroke-width="0.22" text-anchor="middle">p = 0.0018</text>
<line x1="436.9" y1="324.7" x2="462.2" y2="324.7" stroke="#333" stroke-width="1"/>
<text x="443.4" y="331.2" font-size="6.4" stroke="#000" stroke-width="0.22" text-anchor="middle">p = 0.9927</text>
<line x1="437.5" y1="335.7" x2="449.7" y2="335.7" stroke="#333" stroke-width="1"/>
<text x="449.5" y="411" font-size="6.53" stroke="#000" stroke-width="0.22" text-anchor="middle">SLE plasma</text>
<text x="468.8" y="288.7" font-size="12.5" stroke="#000" stroke-width="0.22" font-weight="bold">l</text>
<text x="486.4" y="298.3" font-size="7.64" stroke="#000" stroke-width="0.22">Primer</text>
<text x="491.5" y="314.5" font-size="8" stroke="#000" stroke-width="0.22">DNA</text>
<text x="526" y="298.3" font-size="7.64" stroke="#000" stroke-width="0.22" text-anchor="middle">#1</text>
<text x="552.4" y="298.3" font-size="7.64" stroke="#000" stroke-width="0.22" text-anchor="middle">#2</text>
<text x="619" y="298.3" font-size="7.64" stroke="#000" stroke-width="0.22" text-anchor="middle">#3</text>
<text x="645.2" y="298.3" font-size="7.64" stroke="#000" stroke-width="0.22" text-anchor="middle">#4</text>
<line x1="513.5" y1="303.5" x2="538.8" y2="303.5" stroke="#000" stroke-width="0.8"/>
<line x1="540.1" y1="303.5" x2="565.8" y2="303.5" stroke="#000" stroke-width="0.8"/>
<line x1="606.2" y1="303.5" x2="631.5" y2="303.5" stroke="#000" stroke-width="0.8"/>
<line x1="633.3" y1="303.5" x2="658.4" y2="303.5" stroke="#000" stroke-width="0.8"/>
<text x="519" y="314.3" font-size="7.4" stroke="#000" stroke-width="0.22" text-anchor="middle">-</text>
<text x="532.4" y="314.3" font-size="7.4" stroke="#000" stroke-width="0.22" text-anchor="middle">+</text>
<text x="545" y="314.3" font-size="7.4" stroke="#000" stroke-width="0.22" text-anchor="middle">-</text>
<text x="558.4" y="314.3" font-size="7.4" stroke="#000" stroke-width="0.22" text-anchor="middle">+</text>
<text x="611.3" y="314.3" font-size="7.4" stroke="#000" stroke-width="0.22" text-anchor="middle">-</text>
<text x="624.5" y="314.3" font-size="7.4" stroke="#000" stroke-width="0.22" text-anchor="middle">+</text>
<text x="637.9" y="314.3" font-size="7.4" stroke="#000" stroke-width="0.22" text-anchor="middle">-</text>
<text x="651.6" y="314.3" font-size="7.4" stroke="#000" stroke-width="0.22" text-anchor="middle">+</text>
<g clip-path="url(#cgel)">
<rect x="483.3" y="317.8" width="201.7" height="84.7" fill="url(#gelbg)"/>
<rect x="487.3" y="327.05" width="10.6" height="1.9" fill="#fff" opacity="0.7" filter="url(#blur5)"/>
<rect x="488.1" y="327.5" width="9" height="1" fill="#fff" opacity="0.5" filter="url(#blur3)"/>
<rect x="487.3" y="331.35" width="10.6" height="1.9" fill="#fff" opacity="0.7" filter="url(#blur5)"/>
<rect x="488.1" y="331.8" width="9" height="1" fill="#fff" opacity="0.5" filter="url(#blur3)"/>
<rect x="487.3" y="339.1" width="10.6" height="2.8" fill="#fff" opacity="1" filter="url(#blur5)"/>
<rect x="488.1" y="339.6" width="9" height="1.8" fill="#fff" opacity="1" filter="url(#blur3)"/>
<rect x="487.3" y="351.85" width="10.6" height="1.9" fill="#fff" opacity="0.85" filter="url(#blur5)"/>
<rect x="488.1" y="352.3" width="9" height="1" fill="#fff" opacity="0.8" filter="url(#blur3)"/>
<rect x="487.3" y="364.85" width="10.6" height="1.9" fill="#fff" opacity="0.85" filter="url(#blur5)"/>
<rect x="488.1" y="365.3" width="9" height="1" fill="#fff" opacity="0.8" filter="url(#blur3)"/>
<rect x="487.3" y="376.75" width="10.6" height="1.9" fill="#fff" opacity="0.85" filter="url(#blur5)"/>
<rect x="488.1" y="377.2" width="9" height="1" fill="#fff" opacity="0.8" filter="url(#blur3)"/>
<rect x="580" y="327.05" width="9.7" height="1.9" fill="#fff" opacity="0.7" filter="url(#blur5)"/>
<rect x="580.8" y="327.5" width="8.1" height="1" fill="#fff" opacity="0.5" filter="url(#blur3)"/>
<rect x="580" y="331.35" width="9.7" height="1.9" fill="#fff" opacity="0.7" filter="url(#blur5)"/>
<rect x="580.8" y="331.8" width="8.1" height="1" fill="#fff" opacity="0.5" filter="url(#blur3)"/>
<rect x="580" y="339.1" width="9.7" height="2.8" fill="#fff" opacity="1" filter="url(#blur5)"/>
<rect x="580.8" y="339.6" width="8.1" height="1.8" fill="#fff" opacity="1" filter="url(#blur3)"/>
<rect x="580" y="351.05" width="9.7" height="1.9" fill="#fff" opacity="0.85" filter="url(#blur5)"/>
<rect x="580.8" y="351.5" width="8.1" height="1" fill="#fff" opacity="0.8" filter="url(#blur3)"/>
<rect x="580" y="364.35" width="9.7" height="1.9" fill="#fff" opacity="0.85" filter="url(#blur5)"/>
<rect x="580.8" y="364.8" width="8.1" height="1" fill="#fff" opacity="0.8" filter="url(#blur3)"/>
<rect x="580" y="374.95" width="9.7" height="1.9" fill="#fff" opacity="0.85" filter="url(#blur5)"/>
<rect x="580.8" y="375.4" width="8.1" height="1" fill="#fff" opacity="0.8" filter="url(#blur3)"/>
<rect x="672.2" y="327.65" width="10.1" height="1.9" fill="#fff" opacity="0.7" filter="url(#blur5)"/>
<rect x="673" y="328.1" width="8.5" height="1" fill="#fff" opacity="0.5" filter="url(#blur3)"/>
<rect x="672.2" y="331.65" width="10.1" height="1.9" fill="#fff" opacity="0.7" filter="url(#blur5)"/>
<rect x="673" y="332.1" width="8.5" height="1" fill="#fff" opacity="0.5" filter="url(#blur3)"/>
<rect x="672.2" y="339.1" width="10.1" height="2.8" fill="#fff" opacity="1" filter="url(#blur5)"/>
<rect x="673" y="339.6" width="8.5" height="1.8" fill="#fff" opacity="1" filter="url(#blur3)"/>
<rect x="672.2" y="350.55" width="10.1" height="1.9" fill="#fff" opacity="0.85" filter="url(#blur5)"/>
<rect x="673" y="351" width="8.5" height="1" fill="#fff" opacity="0.8" filter="url(#blur3)"/>
<rect x="672.2" y="363.75" width="10.1" height="1.9" fill="#fff" opacity="0.85" filter="url(#blur5)"/>
<rect x="673" y="364.2" width="8.5" height="1" fill="#fff" opacity="0.8" filter="url(#blur3)"/>
<rect x="672.2" y="374.35" width="10.1" height="1.9" fill="#fff" opacity="0.85" filter="url(#blur5)"/>
<rect x="673" y="374.8" width="8.5" height="1" fill="#fff" opacity="0.8" filter="url(#blur3)"/>
<rect x="527.3" y="338.2" width="9.7" height="1.6" fill="#ccc" opacity="0.35" filter="url(#blur5)"/>
<rect x="527.5" y="358.1" width="9" height="1.4" fill="#bbb" opacity="0.2" filter="url(#blur5)"/>
<rect x="526.5" y="378.6" width="10.7" height="2" fill="#fff" opacity="0.95" filter="url(#blur3)"/>
<rect x="527.5" y="379" width="9" height="1.2" fill="#fff" opacity="1" filter="url(#blur4)"/>
<rect x="513" y="348.9" width="11" height="1.2" fill="#aaa" opacity="0.12" filter="url(#blur5)"/>
<rect x="539.5" y="386.1" width="9" height="1.6" fill="#ccc" opacity="0.22" filter="url(#blur5)"/>
<rect x="552.5" y="345" width="10" height="34" fill="#888" opacity="0.09" filter="url(#blur1)"/>
<rect x="552" y="380.05" width="11" height="1.5" fill="#ccc" opacity="0.35" filter="url(#blur5)"/>
<rect x="551.5" y="386.2" width="12" height="2.2" fill="#fff" opacity="0.95" filter="url(#blur3)"/>
<rect x="552.5" y="386.65" width="10" height="1.3" fill="#fff" opacity="1" filter="url(#blur4)"/>
<rect x="552" y="390.1" width="11" height="1.6" fill="#ddd" opacity="0.6" filter="url(#blur3)"/>
<ellipse cx="519" cy="395" rx="6.5" ry="2.4" fill="#aaa" opacity="0.22" filter="url(#blur1)"/>
<ellipse cx="532" cy="395" rx="6" ry="2.4" fill="#aaa" opacity="0.22" filter="url(#blur1)"/>
<ellipse cx="611.5" cy="395" rx="6.5" ry="2.4" fill="#aaa" opacity="0.22" filter="url(#blur1)"/>
<ellipse cx="625" cy="395" rx="6" ry="2.4" fill="#aaa" opacity="0.22" filter="url(#blur1)"/>
<ellipse cx="638" cy="395" rx="6.5" ry="2.4" fill="#aaa" opacity="0.22" filter="url(#blur1)"/>
<ellipse cx="651" cy="395" rx="6" ry="2.4" fill="#aaa" opacity="0.22" filter="url(#blur1)"/>
<line x1="566.7" y1="320.7" x2="525.4" y2="369.8" stroke="#999" stroke-width="0.35" stroke-dasharray="3 2 1 3 5 2" opacity="0.6"/>
<rect x="618.3" y="360" width="10" height="29" fill="url(#smear)" filter="url(#blur4)"/>
<rect x="617.8" y="388.2" width="10.9" height="1.8" fill="#ddd" opacity="0.6" filter="url(#blur5)"/>
<rect x="645" y="334.3" width="10" height="1.4" fill="#bbb" opacity="0.2" filter="url(#blur5)"/>
<rect x="645" y="358.5" width="10" height="1.4" fill="#bbb" opacity="0.2" filter="url(#blur5)"/>
<rect x="644.5" y="384" width="11" height="2" fill="#ddd" opacity="0.7" filter="url(#blur5)"/>
</g>
<text x="682.3" y="324.9" font-size="6.26" stroke="#fff" stroke-width="0.22" text-anchor="end" fill="#fff">10000 bp</text>
<text x="681.9" y="384.5" font-size="6.3" stroke="#fff" stroke-width="0.22" text-anchor="end" fill="#fff">250 bp</text>
<defs><filter id="blur6" x="-20%" y="-100%" width="140%" height="300%"><feGaussianBlur stdDeviation="0.8"/></filter><clipPath id="co0"><rect x="621.2" y="470.8" width="43.5" height="17.4"/></clipPath><clipPath id="co1"><rect x="621.2" y="491.2" width="43.5" height="16.8"/></clipPath><clipPath id="co2"><rect x="621.2" y="512" width="43.5" height="16.7"/></clipPath><clipPath id="co3"><rect x="621.2" y="532.7" width="43.5" height="15.8"/></clipPath></defs>
<text x="-0.8" y="436.8" font-size="12.5" stroke="#000" stroke-width="0.22" font-weight="bold">m</text>
<rect x="31.6" y="444.1" width="44.5" height="6.2" fill="#FDBF80"/>
<rect x="77.7" y="444.1" width="44.4" height="6.2" fill="#109E6A"/>
<text x="54" y="450.3" font-size="7.57" stroke="#000" stroke-width="0.22" text-anchor="middle">siNC</text>
<text x="100" y="450.3" font-size="7.9" stroke="#000" stroke-width="0.22" text-anchor="middle">siCNBP</text>
<rect x="31.6" y="451.6" width="11.46" height="10.59" fill="#FFE6CE"/>
<rect x="42.91" y="451.6" width="11.46" height="10.59" fill="#FECFA1"/>
<rect x="54.22" y="451.6" width="11.46" height="10.59" fill="#FFF1E4"/>
<rect x="65.53" y="451.6" width="11.46" height="10.59" fill="#FFF9F4"/>
<rect x="76.84" y="451.6" width="11.46" height="10.59" fill="#FFF4E9"/>
<rect x="88.15" y="451.6" width="11.46" height="10.59" fill="#FED1A6"/>
<rect x="99.46" y="451.6" width="11.46" height="10.59" fill="#FEE2C7"/>
<rect x="110.77" y="451.6" width="11.46" height="10.59" fill="#FED7B1"/>
<rect x="31.6" y="462.04" width="11.46" height="10.59" fill="#FED1A6"/>
<rect x="42.91" y="462.04" width="11.46" height="10.59" fill="#FED9B5"/>
<rect x="54.22" y="462.04" width="11.46" height="10.59" fill="#FEE0C3"/>
<rect x="65.53" y="462.04" width="11.46" height="10.59" fill="#FFE8D2"/>
<rect x="76.84" y="462.04" width="11.46" height="10.59" fill="#A3A5D1"/>
<rect x="88.15" y="462.04" width="11.46" height="10.59" fill="#8184C0"/>
<rect x="99.46" y="462.04" width="11.46" height="10.59" fill="#6A6DB4"/>
<rect x="110.77" y="462.04" width="11.46" height="10.59" fill="#AFB1D7"/>
<rect x="31.6" y="472.48" width="11.46" height="10.59" fill="#FFF6ED"/>
<rect x="42.91" y="472.48" width="11.46" height="10.59" fill="#FFE8D2"/>
<rect x="54.22" y="472.48" width="11.46" height="10.59" fill="#FFEAD7"/>
<rect x="65.53" y="472.48" width="11.46" height="10.59" fill="#FED9B5"/>
<rect x="76.84" y="472.48" width="11.46" height="10.59" fill="#1A1F8C"/>
<rect x="88.15" y="472.48" width="11.46" height="10.59" fill="#5A5EAC"/>
<rect x="99.46" y="472.48" width="11.46" height="10.59" fill="#5357A9"/>
<rect x="110.77" y="472.48" width="11.46" height="10.59" fill="#7174B8"/>
<rect x="31.6" y="482.92" width="11.46" height="10.59" fill="#FEBB79"/>
<rect x="42.91" y="482.92" width="11.46" height="10.59" fill="#FEDDBC"/>
<rect x="54.22" y="482.92" width="11.46" height="10.59" fill="#FEC690"/>
<rect x="65.53" y="482.92" width="11.46" height="10.59" fill="#FEDDBC"/>
<rect x="76.84" y="482.92" width="11.46" height="10.59" fill="#BABCDC"/>
<rect x="88.15" y="482.92" width="11.46" height="10.59" fill="#9193C8"/>
<rect x="99.46" y="482.92" width="11.46" height="10.59" fill="#CDCEE6"/>
<rect x="110.77" y="482.92" width="11.46" height="10.59" fill="#BABCDC"/>
<rect x="31.6" y="493.36" width="11.46" height="10.59" fill="#FD932B"/>
<rect x="42.91" y="493.36" width="11.46" height="10.59" fill="#FD9836"/>
<rect x="54.22" y="493.36" width="11.46" height="10.59" fill="#FD932B"/>
<rect x="65.53" y="493.36" width="11.46" height="10.59" fill="#FD8D20"/>
<rect x="76.84" y="493.36" width="11.46" height="10.59" fill="#A8AAD3"/>
<rect x="88.15" y="493.36" width="11.46" height="10.59" fill="#D1D2E8"/>
<rect x="99.46" y="493.36" width="11.46" height="10.59" fill="#DDDDEE"/>
<rect x="110.77" y="493.36" width="11.46" height="10.59" fill="#D1D2E8"/>
<rect x="31.6" y="503.8" width="11.46" height="10.59" fill="#6367B1"/>
<rect x="42.91" y="503.8" width="11.46" height="10.59" fill="#686BB3"/>
<rect x="54.22" y="503.8" width="11.46" height="10.59" fill="#8C8FC6"/>
<rect x="65.53" y="503.8" width="11.46" height="10.59" fill="#8184C0"/>
<rect x="76.84" y="503.8" width="11.46" height="10.59" fill="#FEBB79"/>
<rect x="88.15" y="503.8" width="11.46" height="10.59" fill="#FEB167"/>
<rect x="99.46" y="503.8" width="11.46" height="10.59" fill="#FEC48B"/>
<rect x="110.77" y="503.8" width="11.46" height="10.59" fill="#FEAD5E"/>
<rect x="31.6" y="514.24" width="11.46" height="10.59" fill="#D1D2E8"/>
<rect x="42.91" y="514.24" width="11.46" height="10.59" fill="#FFF7EF"/>
<rect x="54.22" y="514.24" width="11.46" height="10.59" fill="#FFFCF8"/>
<rect x="65.53" y="514.24" width="11.46" height="10.59" fill="#F4F4F9"/>
<rect x="76.84" y="514.24" width="11.46" height="10.59" fill="#EFEFF7"/>
<rect x="88.15" y="514.24" width="11.46" height="10.59" fill="#FFFFFF"/>
<rect x="99.46" y="514.24" width="11.46" height="10.59" fill="#FFEEDE"/>
<rect x="110.77" y="514.24" width="11.46" height="10.59" fill="#FFF6ED"/>
<rect x="31.6" y="524.68" width="11.46" height="10.59" fill="#FED7B1"/>
<rect x="42.91" y="524.68" width="11.46" height="10.59" fill="#FED5AC"/>
<rect x="54.22" y="524.68" width="11.46" height="10.59" fill="#FEDDBC"/>
<rect x="65.53" y="524.68" width="11.46" height="10.59" fill="#FEDDBC"/>
<rect x="76.84" y="524.68" width="11.46" height="10.59" fill="#FED9B5"/>
<rect x="88.15" y="524.68" width="11.46" height="10.59" fill="#FED7B1"/>
<rect x="99.46" y="524.68" width="11.46" height="10.59" fill="#FEE0C3"/>
<rect x="110.77" y="524.68" width="11.46" height="10.59" fill="#FED7B1"/>
<rect x="31.6" y="535.12" width="11.46" height="10.59" fill="#FED7B1"/>
<rect x="42.91" y="535.12" width="11.46" height="10.59" fill="#FED4AA"/>
<rect x="54.22" y="535.12" width="11.46" height="10.59" fill="#FEDBB8"/>
<rect x="65.53" y="535.12" width="11.46" height="10.59" fill="#FEDDBC"/>
<rect x="76.84" y="535.12" width="11.46" height="10.59" fill="#FED7B1"/>
<rect x="88.15" y="535.12" width="11.46" height="10.59" fill="#FEDDBC"/>
<rect x="99.46" y="535.12" width="11.46" height="10.59" fill="#FEDDBC"/>
<rect x="110.77" y="535.12" width="11.46" height="10.59" fill="#FED7B1"/>
<rect x="31.6" y="545.56" width="11.46" height="10.59" fill="#FFF6ED"/>
<rect x="42.91" y="545.56" width="11.46" height="10.59" fill="#D6D7EA"/>
<rect x="54.22" y="545.56" width="11.46" height="10.59" fill="#FFFFFF"/>
<rect x="65.53" y="545.56" width="11.46" height="10.59" fill="#E8E9F4"/>
<rect x="76.84" y="545.56" width="11.46" height="10.59" fill="#FFF4E9"/>
<rect x="88.15" y="545.56" width="11.46" height="10.59" fill="#E8E9F4"/>
<rect x="99.46" y="545.56" width="11.46" height="10.59" fill="#FFF1E4"/>
<rect x="110.77" y="545.56" width="11.46" height="10.59" fill="#E4E4F1"/>
<rect x="31.6" y="451.6" width="90.48" height="104.4" fill="none" stroke="#aaa" stroke-width="0.6"/>
<text x="29.8" y="459.11" font-size="6.36" stroke="#000" stroke-width="0.22" text-anchor="end" font-style="italic">SLC2A1</text>
<text x="29.8" y="469.55" font-size="6.36" stroke="#000" stroke-width="0.22" text-anchor="end" font-style="italic">HK2</text>
<text x="29.8" y="479.99" font-size="6.36" stroke="#000" stroke-width="0.22" text-anchor="end" font-style="italic">PFKFB1</text>
<text x="29.8" y="490.43" font-size="6.36" stroke="#000" stroke-width="0.22" text-anchor="end" font-style="italic">PFKFB2</text>
<text x="29.8" y="500.87" font-size="6.36" stroke="#000" stroke-width="0.22" text-anchor="end" font-style="italic">LDHA</text>
<text x="29.8" y="511.31" font-size="6.36" stroke="#000" stroke-width="0.22" text-anchor="end" font-style="italic">MPC1</text>
<text x="29.8" y="521.75" font-size="6.36" stroke="#000" stroke-width="0.22" text-anchor="end" font-style="italic">PDHA</text>
<text x="29.8" y="532.19" font-size="6.36" stroke="#000" stroke-width="0.22" text-anchor="end" font-style="italic">CS</text>
<text x="29.8" y="542.63" font-size="6.36" stroke="#000" stroke-width="0.22" text-anchor="end" font-style="italic">OGDH</text>
<text x="29.8" y="553.07" font-size="6.36" stroke="#000" stroke-width="0.22" text-anchor="end" font-style="italic">IDH1</text>
<line x1="76.8" y1="444.3" x2="76.8" y2="556" stroke="#0a0a0a" stroke-width="1.7" stroke-dasharray="6.4 4"/>
<text x="56.9" y="563.6" font-size="5.5" stroke="#000" stroke-width="0.22">Fold change log<tspan font-size="3.6" dy="1">2</tspan></text>
<rect x="55" y="565.9" width="43.7" height="4.7" fill="url(#cb)"/>
<text x="55.3" y="576.3" font-size="5.2" stroke="#000" stroke-width="0.22" text-anchor="middle">-1.0</text>
<text x="99" y="576.3" font-size="5.2" stroke="#000" stroke-width="0.22" text-anchor="middle">1.0</text>
<text x="135.8" y="437" font-size="12.5" stroke="#000" stroke-width="0.22" font-weight="bold">n</text>
<line x1="142" y1="453" x2="149.6" y2="453" stroke="#9A9A9A" stroke-width="0.8"/>
<circle cx="145.8" cy="453" r="1.3" fill="#9A9A9A"/>
<text x="154.1" y="455.4" font-size="7.13" stroke="#000" stroke-width="0.22">Vehicle</text>
<line x1="183.6" y1="453" x2="191.2" y2="453" stroke="#FF7F0E" stroke-width="0.8"/>
<circle cx="187.4" cy="453" r="1.3" fill="#FF7F0E"/>
<text x="195" y="455.4" font-size="7.26" stroke="#000" stroke-width="0.22">DNA (siNC)</text>
<line x1="238.8" y1="453" x2="246.4" y2="453" stroke="#1CA02C" stroke-width="0.8"/>
<circle cx="242.6" cy="453" r="1.3" fill="#1CA02C"/>
<text x="249.3" y="455.4" font-size="7.26" stroke="#000" stroke-width="0.22">DNA (siCNBP)</text>
<line x1="171.6" y1="481.5" x2="171.6" y2="544.3" stroke="#000" stroke-width="0.9"/>
<line x1="171.6" y1="543.9" x2="266.2" y2="543.9" stroke="#000" stroke-width="0.9"/>
<line x1="168.6" y1="543.9" x2="171.6" y2="543.9" stroke="#000" stroke-width="0.9"/>
<text x="168.2" y="546.5" font-size="7.2" stroke="#000" stroke-width="0.22" text-anchor="end">0</text>
<line x1="168.6" y1="531.5" x2="171.6" y2="531.5" stroke="#000" stroke-width="0.9"/>
<text x="168.2" y="534.1" font-size="7.2" stroke="#000" stroke-width="0.22" text-anchor="end">10</text>
<line x1="168.6" y1="519.1" x2="171.6" y2="519.1" stroke="#000" stroke-width="0.9"/>
<text x="168.2" y="521.7" font-size="7.2" stroke="#000" stroke-width="0.22" text-anchor="end">20</text>
<line x1="168.6" y1="506.7" x2="171.6" y2="506.7" stroke="#000" stroke-width="0.9"/>
<text x="168.2" y="509.3" font-size="7.2" stroke="#000" stroke-width="0.22" text-anchor="end">30</text>
<line x1="168.6" y1="494.3" x2="171.6" y2="494.3" stroke="#000" stroke-width="0.9"/>
<text x="168.2" y="496.9" font-size="7.2" stroke="#000" stroke-width="0.22" text-anchor="end">40</text>
<line x1="168.6" y1="481.9" x2="171.6" y2="481.9" stroke="#000" stroke-width="0.9"/>
<text x="168.2" y="484.5" font-size="7.2" stroke="#000" stroke-width="0.22" text-anchor="end">50</text>
<line x1="171.6" y1="543.9" x2="171.6" y2="546.9" stroke="#000" stroke-width="0.9"/>
<text x="171.6" y="553.3" font-size="7.2" stroke="#000" stroke-width="0.22" text-anchor="middle">0</text>
<line x1="190.44" y1="543.9" x2="190.44" y2="546.9" stroke="#000" stroke-width="0.9"/>
<text x="190.44" y="553.3" font-size="7.2" stroke="#000" stroke-width="0.22" text-anchor="middle">20</text>
<line x1="209.28" y1="543.9" x2="209.28" y2="546.9" stroke="#000" stroke-width="0.9"/>
<text x="209.28" y="553.3" font-size="7.2" stroke="#000" stroke-width="0.22" text-anchor="middle">40</text>
<line x1="228.12" y1="543.9" x2="228.12" y2="546.9" stroke="#000" stroke-width="0.9"/>
<text x="228.12" y="553.3" font-size="7.2" stroke="#000" stroke-width="0.22" text-anchor="middle">60</text>
<line x1="246.96" y1="543.9" x2="246.96" y2="546.9" stroke="#000" stroke-width="0.9"/>
<text x="246.96" y="553.3" font-size="7.2" stroke="#000" stroke-width="0.22" text-anchor="middle">80</text>
<line x1="265.8" y1="543.9" x2="265.8" y2="546.9" stroke="#000" stroke-width="0.9"/>
<text x="265.8" y="553.3" font-size="7.2" stroke="#000" stroke-width="0.22" text-anchor="middle">100</text>
<text x="218.7" y="563.4" font-size="7.39" stroke="#000" stroke-width="0.22" text-anchor="middle">Time (minutes)</text>
<text x="155.6" y="509" font-size="7.3" stroke="#000" stroke-width="0.22" text-anchor="middle" transform="rotate(-90 155.6 509)">ECAR (mpH/min)</text>
<path d="M172.54 532.37 L181.02 531.5 L189.5 531.25 L197.03 527.78 L205.51 527.16 L213.99 527.41 L221.53 526.17 L230 525.55 L238.48 525.55 L246.02 536.09 L254.5 536.46 L262.97 536.71" stroke="#9A9A9A" fill="none" stroke-width="1.1" stroke-linejoin="round"/>
<circle cx="172.54" cy="532.37" r="1.25" fill="#9A9A9A"/>
<circle cx="181.02" cy="531.5" r="1.25" fill="#9A9A9A"/>
<circle cx="189.5" cy="531.25" r="1.25" fill="#9A9A9A"/>
<circle cx="197.03" cy="527.78" r="1.25" fill="#9A9A9A"/>
<circle cx="205.51" cy="527.16" r="1.25" fill="#9A9A9A"/>
<circle cx="213.99" cy="527.41" r="1.25" fill="#9A9A9A"/>
<circle cx="221.53" cy="526.17" r="1.25" fill="#9A9A9A"/>
<circle cx="230" cy="525.55" r="1.25" fill="#9A9A9A"/>
<circle cx="238.48" cy="525.55" r="1.25" fill="#9A9A9A"/>
<circle cx="246.02" cy="536.09" r="1.25" fill="#9A9A9A"/>
<circle cx="254.5" cy="536.46" r="1.25" fill="#9A9A9A"/>
<circle cx="262.97" cy="536.71" r="1.25" fill="#9A9A9A"/>
<path d="M172.54 528.65 L181.02 528.65 L189.5 528.65 L197.03 520.34 L205.51 517.61 L213.99 516.25 L221.53 515.63 L230 513.89 L238.48 514.76 L246.02 533.98 L254.5 535.22 L262.97 535.47" stroke="#1CA02C" fill="none" stroke-width="1.1" stroke-linejoin="round"/>
<circle cx="172.54" cy="528.65" r="1.25" fill="#1CA02C"/>
<circle cx="181.02" cy="528.65" r="1.25" fill="#1CA02C"/>
<circle cx="189.5" cy="528.65" r="1.25" fill="#1CA02C"/>
<circle cx="197.03" cy="520.34" r="1.25" fill="#1CA02C"/>
<circle cx="205.51" cy="517.61" r="1.25" fill="#1CA02C"/>
<circle cx="213.99" cy="516.25" r="1.25" fill="#1CA02C"/>
<circle cx="221.53" cy="515.63" r="1.25" fill="#1CA02C"/>
<circle cx="230" cy="513.89" r="1.25" fill="#1CA02C"/>
<circle cx="238.48" cy="514.76" r="1.25" fill="#1CA02C"/>
<circle cx="246.02" cy="533.98" r="1.25" fill="#1CA02C"/>
<circle cx="254.5" cy="535.22" r="1.25" fill="#1CA02C"/>
<circle cx="262.97" cy="535.47" r="1.25" fill="#1CA02C"/>
<path d="M172.54 516.62 L181.02 517.61 L189.5 517.61 L197.03 500.75 L205.51 497.15 L213.99 496.16 L221.53 490.83 L230 489.59 L238.48 490.58 L246.02 529.27 L254.5 531.5 L262.97 532.12" stroke="#FF7F0E" fill="none" stroke-width="1.1" stroke-linejoin="round"/>
<circle cx="172.54" cy="516.62" r="1.25" fill="#FF7F0E"/>
<circle cx="181.02" cy="517.61" r="1.25" fill="#FF7F0E"/>
<circle cx="189.5" cy="517.61" r="1.25" fill="#FF7F0E"/>
<circle cx="197.03" cy="500.75" r="1.25" fill="#FF7F0E"/>
<circle cx="205.51" cy="497.15" r="1.25" fill="#FF7F0E"/>
<circle cx="213.99" cy="496.16" r="1.25" fill="#FF7F0E"/>
<circle cx="221.53" cy="490.83" r="1.25" fill="#FF7F0E"/>
<circle cx="230" cy="489.59" r="1.25" fill="#FF7F0E"/>
<circle cx="238.48" cy="490.58" r="1.25" fill="#FF7F0E"/>
<circle cx="246.02" cy="529.27" r="1.25" fill="#FF7F0E"/>
<circle cx="254.5" cy="531.5" r="1.25" fill="#FF7F0E"/>
<circle cx="262.97" cy="532.12" r="1.25" fill="#FF7F0E"/>
<text x="189.7" y="485.9" font-size="6.27" stroke="#000" stroke-width="0.22" text-anchor="middle">Glucose</text>
<line x1="189.6" y1="489.2" x2="189.6" y2="504.1" stroke="#000" stroke-width="1.1"/>
<polygon points="187.4,502.9 191.8,502.9 189.6,507.1" fill="#000"/>
<text x="216.1" y="472.1" font-size="6.5" stroke="#000" stroke-width="0.22" text-anchor="middle">Oligomycin</text>
<line x1="216.1" y1="475.4" x2="216.1" y2="489.9" stroke="#000" stroke-width="1.1"/>
<polygon points="213.9,488.7 218.3,488.7 216.1,492.9" fill="#000"/>
<text x="246.3" y="485.9" font-size="6.25" stroke="#000" stroke-width="0.22" text-anchor="middle">2-DG</text>
<line x1="246.7" y1="489.2" x2="246.7" y2="504.1" stroke="#000" stroke-width="1.1"/>
<polygon points="244.5,502.9 248.9,502.9 246.7,507.1" fill="#000"/>
<rect x="333.6" y="449.9" width="7.2" height="7.2" fill="#D9D9D9"/>
<text x="345.9" y="456.07" font-size="7.78" stroke="#000" stroke-width="0.22">Vehicle</text>
<rect x="401.8" y="449.9" width="7.2" height="7.2" fill="#FDC48F"/>
<text x="414.1" y="456.07" font-size="7.78" stroke="#000" stroke-width="0.22">DNA (siNC)</text>
<rect x="484.6" y="449.9" width="7.2" height="7.2" fill="#109E6A"/>
<text x="496.9" y="456.07" font-size="7.78" stroke="#000" stroke-width="0.22">DNA (siCNBP)</text>
<rect x="313.1" y="525.84" width="7.8" height="25.16" fill="#D9D9D9"/>
<rect x="325" y="496.89" width="8" height="54.11" fill="#FDC48F"/>
<rect x="337" y="522.05" width="8" height="28.95" fill="#109E6A"/>
<line x1="317" y1="521.39" x2="317" y2="530.29" stroke="#777" stroke-width="0.7"/>
<line x1="314.7" y1="521.39" x2="319.3" y2="521.39" stroke="#777" stroke-width="0.7"/>
<line x1="314.7" y1="530.29" x2="319.3" y2="530.29" stroke="#777" stroke-width="0.7"/>
<line x1="314.24" y1="525.84" x2="319.76" y2="525.84" stroke="#777" stroke-width="0.7"/>
<circle cx="317" cy="517.38" r="1" fill="#777"/>
<circle cx="315.5" cy="529.4" r="1" fill="#777"/>
<circle cx="318.5" cy="529.62" r="1" fill="#777"/>
<line x1="329" y1="494" x2="329" y2="499.79" stroke="#F5821F" stroke-width="0.7"/>
<line x1="326.7" y1="494" x2="331.3" y2="494" stroke="#F5821F" stroke-width="0.7"/>
<line x1="326.7" y1="499.79" x2="331.3" y2="499.79" stroke="#F5821F" stroke-width="0.7"/>
<line x1="326.24" y1="496.89" x2="331.76" y2="496.89" stroke="#F5821F" stroke-width="0.7"/>
<circle cx="329" cy="491.33" r="1" fill="#F5821F"/>
<circle cx="329" cy="497.11" r="1" fill="#F5821F"/>
<circle cx="329" cy="502.01" r="1" fill="#F5821F"/>
<line x1="341" y1="520.05" x2="341" y2="524.06" stroke="#0B7A48" stroke-width="0.7"/>
<line x1="338.7" y1="520.05" x2="343.3" y2="520.05" stroke="#0B7A48" stroke-width="0.7"/>
<line x1="338.7" y1="524.06" x2="343.3" y2="524.06" stroke="#0B7A48" stroke-width="0.7"/>
<line x1="338.24" y1="522.05" x2="343.76" y2="522.05" stroke="#0B7A48" stroke-width="0.7"/>
<circle cx="341" cy="517.82" r="1" fill="#0B7A48"/>
<circle cx="341" cy="522.05" r="1" fill="#0B7A48"/>
<circle cx="341" cy="525.62" r="1" fill="#0B7A48"/>
<line x1="308.5" y1="483.8" x2="308.5" y2="551.4" stroke="#000" stroke-width="0.9"/>
<line x1="308.5" y1="551" x2="348.4" y2="551" stroke="#000" stroke-width="0.9"/>
<line x1="305.1" y1="551" x2="308.5" y2="551" stroke="#000" stroke-width="0.9"/>
<text x="304.6" y="553.74" font-size="7.6" stroke="#000" stroke-width="0.22" text-anchor="end">0</text>
<line x1="305.1" y1="528.73" x2="308.5" y2="528.73" stroke="#000" stroke-width="0.9"/>
<text x="304.6" y="531.47" font-size="7.6" stroke="#000" stroke-width="0.22" text-anchor="end">10</text>
<line x1="305.1" y1="506.47" x2="308.5" y2="506.47" stroke="#000" stroke-width="0.9"/>
<text x="304.6" y="509.2" font-size="7.6" stroke="#000" stroke-width="0.22" text-anchor="end">20</text>
<line x1="305.1" y1="484.2" x2="308.5" y2="484.2" stroke="#000" stroke-width="0.9"/>
<text x="304.6" y="486.94" font-size="7.6" stroke="#000" stroke-width="0.22" text-anchor="end">30</text>
<text x="292.2" y="516.4" font-size="7.2" stroke="#000" stroke-width="0.22" text-anchor="middle" transform="rotate(-90 292.2 516.4)">ECAR (mpH/min)</text>
<text x="334.5" y="470.9" font-size="6.25" stroke="#000" stroke-width="0.22" text-anchor="middle">p = 0.0041</text>
<line x1="330.4" y1="474.7" x2="341.2" y2="474.7" stroke="#333" stroke-width="1"/>
<text x="323" y="481.4" font-size="6.25" stroke="#000" stroke-width="0.22" text-anchor="middle">p = 0.0019</text>
<line x1="316.9" y1="485.2" x2="329.2" y2="485.2" stroke="#333" stroke-width="1.2"/>
<rect x="387.9" y="540.21" width="7.8" height="10.79" fill="#D9D9D9"/>
<rect x="399.9" y="503.57" width="7.9" height="47.43" fill="#FDC48F"/>
<rect x="411.8" y="532.96" width="8.4" height="18.04" fill="#109E6A"/>
<line x1="391.8" y1="538.21" x2="391.8" y2="542.22" stroke="#777" stroke-width="0.7"/>
<line x1="389.5" y1="538.21" x2="394.1" y2="538.21" stroke="#777" stroke-width="0.7"/>
<line x1="389.5" y1="542.22" x2="394.1" y2="542.22" stroke="#777" stroke-width="0.7"/>
<line x1="389.04" y1="540.21" x2="394.56" y2="540.21" stroke="#777" stroke-width="0.7"/>
<circle cx="391.8" cy="536.3" r="1" fill="#777"/>
<circle cx="391.8" cy="540.65" r="1" fill="#777"/>
<circle cx="391.8" cy="542.98" r="1" fill="#777"/>
<line x1="403.85" y1="493.72" x2="403.85" y2="513.42" stroke="#F5821F" stroke-width="0.7"/>
<line x1="401.55" y1="493.72" x2="406.15" y2="493.72" stroke="#F5821F" stroke-width="0.7"/>
<line x1="401.55" y1="513.42" x2="406.15" y2="513.42" stroke="#F5821F" stroke-width="0.7"/>
<line x1="401.09" y1="503.57" x2="406.61" y2="503.57" stroke="#F5821F" stroke-width="0.7"/>
<circle cx="402.35" cy="493.22" r="1" fill="#F5821F"/>
<circle cx="405.85" cy="493.89" r="1" fill="#F5821F"/>
<circle cx="403.85" cy="523.95" r="1" fill="#F5821F"/>
<line x1="416" y1="524.95" x2="416" y2="540.98" stroke="#0B7A48" stroke-width="0.7"/>
<line x1="413.7" y1="524.95" x2="418.3" y2="524.95" stroke="#0B7A48" stroke-width="0.7"/>
<line x1="413.7" y1="540.98" x2="418.3" y2="540.98" stroke="#0B7A48" stroke-width="0.7"/>
<line x1="413.24" y1="532.96" x2="418.76" y2="532.96" stroke="#0B7A48" stroke-width="0.7"/>
<circle cx="416" cy="516.93" r="1" fill="#0B7A48"/>
<circle cx="414.5" cy="540.98" r="1" fill="#0B7A48"/>
<circle cx="417.5" cy="540.98" r="1" fill="#0B7A48"/>
<line x1="383" y1="483.8" x2="383" y2="551.4" stroke="#000" stroke-width="0.9"/>
<line x1="383" y1="551" x2="423.6" y2="551" stroke="#000" stroke-width="0.9"/>
<line x1="379.6" y1="551" x2="383" y2="551" stroke="#000" stroke-width="0.9"/>
<text x="379.1" y="553.74" font-size="7.6" stroke="#000" stroke-width="0.22" text-anchor="end">0</text>
<line x1="379.6" y1="534.3" x2="383" y2="534.3" stroke="#000" stroke-width="0.9"/>
<text x="379.1" y="537.04" font-size="7.6" stroke="#000" stroke-width="0.22" text-anchor="end">5</text>
<line x1="379.6" y1="517.6" x2="383" y2="517.6" stroke="#000" stroke-width="0.9"/>
<text x="379.1" y="520.34" font-size="7.6" stroke="#000" stroke-width="0.22" text-anchor="end">10</text>
<line x1="379.6" y1="500.9" x2="383" y2="500.9" stroke="#000" stroke-width="0.9"/>
<text x="379.1" y="503.64" font-size="7.6" stroke="#000" stroke-width="0.22" text-anchor="end">15</text>
<line x1="379.6" y1="484.2" x2="383" y2="484.2" stroke="#000" stroke-width="0.9"/>
<text x="379.1" y="486.94" font-size="7.6" stroke="#000" stroke-width="0.22" text-anchor="end">20</text>
<text x="367.4" y="516.5" font-size="7.2" stroke="#000" stroke-width="0.22" text-anchor="middle" transform="rotate(-90 367.4 516.5)">Glycoysis</text>
<text x="410.9" y="469.8" font-size="6.25" stroke="#000" stroke-width="0.22" text-anchor="middle">p = 0.0735</text>
<line x1="405" y1="473.6" x2="416.6" y2="473.6" stroke="#333" stroke-width="1"/>
<text x="397.3" y="481.2" font-size="6.25" stroke="#000" stroke-width="0.22" text-anchor="middle">p = 0.0339</text>
<line x1="391.9" y1="485" x2="403.1" y2="485" stroke="#333" stroke-width="1.2"/>
<rect x="464.1" y="537.41" width="7.8" height="13.09" fill="#D9D9D9"/>
<rect x="476.1" y="497.86" width="7.9" height="52.64" fill="#FDC48F"/>
<rect x="488" y="532.33" width="8.4" height="18.17" fill="#109E6A"/>
<line x1="468" y1="535.27" x2="468" y2="539.54" stroke="#777" stroke-width="0.7"/>
<line x1="465.7" y1="535.27" x2="470.3" y2="535.27" stroke="#777" stroke-width="0.7"/>
<line x1="465.7" y1="539.54" x2="470.3" y2="539.54" stroke="#777" stroke-width="0.7"/>
<line x1="465.24" y1="537.41" x2="470.76" y2="537.41" stroke="#777" stroke-width="0.7"/>
<circle cx="468" cy="532.86" r="1" fill="#777"/>
<circle cx="468" cy="538.21" r="1" fill="#777"/>
<circle cx="468" cy="540.61" r="1" fill="#777"/>
<line x1="480.05" y1="488.38" x2="480.05" y2="507.35" stroke="#F5821F" stroke-width="0.7"/>
<line x1="477.75" y1="488.38" x2="482.35" y2="488.38" stroke="#F5821F" stroke-width="0.7"/>
<line x1="477.75" y1="507.35" x2="482.35" y2="507.35" stroke="#F5821F" stroke-width="0.7"/>
<line x1="477.29" y1="497.86" x2="482.81" y2="497.86" stroke="#F5821F" stroke-width="0.7"/>
<polygon points="480.05,487.21 481.05,488.51 480.05,489.81 479.05,488.51" fill="#F5821F"/>
<polygon points="480.05,488.81 481.05,490.11 480.05,491.41 479.05,490.11" fill="#F5821F"/>
<polygon points="480.05,516.07 481.05,517.37 480.05,518.67 479.05,517.37" fill="#F5821F"/>
<line x1="492.2" y1="525.12" x2="492.2" y2="539.54" stroke="#0B7A48" stroke-width="0.7"/>
<line x1="489.9" y1="525.12" x2="494.5" y2="525.12" stroke="#0B7A48" stroke-width="0.7"/>
<line x1="489.9" y1="539.54" x2="494.5" y2="539.54" stroke="#0B7A48" stroke-width="0.7"/>
<line x1="489.44" y1="532.33" x2="494.96" y2="532.33" stroke="#0B7A48" stroke-width="0.7"/>
<circle cx="492.2" cy="518.44" r="1" fill="#0B7A48"/>
<circle cx="492.2" cy="537.14" r="1" fill="#0B7A48"/>
<circle cx="492.2" cy="541.15" r="1" fill="#0B7A48"/>
<line x1="459" y1="483.3" x2="459" y2="550.9" stroke="#000" stroke-width="0.9"/>
<line x1="459" y1="550.5" x2="499.4" y2="550.5" stroke="#000" stroke-width="0.9"/>
<line x1="455.6" y1="550.5" x2="459" y2="550.5" stroke="#000" stroke-width="0.9"/>
<text x="455.1" y="553.24" font-size="7.6" stroke="#000" stroke-width="0.22" text-anchor="end">0</text>
<line x1="455.6" y1="537.14" x2="459" y2="537.14" stroke="#000" stroke-width="0.9"/>
<text x="455.1" y="539.88" font-size="7.6" stroke="#000" stroke-width="0.22" text-anchor="end">5</text>
<line x1="455.6" y1="523.78" x2="459" y2="523.78" stroke="#000" stroke-width="0.9"/>
<text x="455.1" y="526.52" font-size="7.6" stroke="#000" stroke-width="0.22" text-anchor="end">10</text>
<line x1="455.6" y1="510.42" x2="459" y2="510.42" stroke="#000" stroke-width="0.9"/>
<text x="455.1" y="513.16" font-size="7.6" stroke="#000" stroke-width="0.22" text-anchor="end">15</text>
<line x1="455.6" y1="497.06" x2="459" y2="497.06" stroke="#000" stroke-width="0.9"/>
<text x="455.1" y="499.8" font-size="7.6" stroke="#000" stroke-width="0.22" text-anchor="end">20</text>
<line x1="455.6" y1="483.7" x2="459" y2="483.7" stroke="#000" stroke-width="0.9"/>
<text x="455.1" y="486.44" font-size="7.6" stroke="#000" stroke-width="0.22" text-anchor="end">25</text>
<text x="442.9" y="515.7" font-size="7.2" stroke="#000" stroke-width="0.22" text-anchor="middle" transform="rotate(-90 442.9 515.7)">Glycolytic Capacity</text>
<text x="486" y="467.5" font-size="6.25" stroke="#000" stroke-width="0.22" text-anchor="middle">p = 0.0310</text>
<line x1="480.4" y1="471.3" x2="492.2" y2="471.3" stroke="#333" stroke-width="1"/>
<text x="474" y="479.5" font-size="6.25" stroke="#000" stroke-width="0.22" text-anchor="middle">p = 0.0170</text>
<line x1="467.8" y1="483.5" x2="479.4" y2="483.5" stroke="#333" stroke-width="1.1"/>
<rect x="535.5" y="537.72" width="7.9" height="12.88" fill="#D9D9D9"/>
<rect x="547.6" y="505.44" width="8.2" height="45.16" fill="#FDC48F"/>
<rect x="559.6" y="538.06" width="8.1" height="12.54" fill="#109E6A"/>
<line x1="539.45" y1="534.38" x2="539.45" y2="541.07" stroke="#777" stroke-width="0.7"/>
<line x1="537.15" y1="534.38" x2="541.75" y2="534.38" stroke="#777" stroke-width="0.7"/>
<line x1="537.15" y1="541.07" x2="541.75" y2="541.07" stroke="#777" stroke-width="0.7"/>
<line x1="536.69" y1="537.72" x2="542.21" y2="537.72" stroke="#777" stroke-width="0.7"/>
<circle cx="539.45" cy="531.37" r="1" fill="#777"/>
<circle cx="537.95" cy="540.57" r="1" fill="#777"/>
<circle cx="540.95" cy="540.57" r="1" fill="#777"/>
<line x1="551.7" y1="500.43" x2="551.7" y2="510.46" stroke="#F5821F" stroke-width="0.7"/>
<line x1="549.4" y1="500.43" x2="554" y2="500.43" stroke="#F5821F" stroke-width="0.7"/>
<line x1="549.4" y1="510.46" x2="554" y2="510.46" stroke="#F5821F" stroke-width="0.7"/>
<line x1="548.94" y1="505.44" x2="554.46" y2="505.44" stroke="#F5821F" stroke-width="0.7"/>
<circle cx="551.7" cy="496.24" r="1" fill="#F5821F"/>
<circle cx="551.7" cy="506.28" r="1" fill="#F5821F"/>
<circle cx="551.7" cy="512.97" r="1" fill="#F5821F"/>
<line x1="563.65" y1="533.46" x2="563.65" y2="542.66" stroke="#0B7A48" stroke-width="0.7"/>
<line x1="561.35" y1="533.46" x2="565.95" y2="533.46" stroke="#0B7A48" stroke-width="0.7"/>
<line x1="561.35" y1="542.66" x2="565.95" y2="542.66" stroke="#0B7A48" stroke-width="0.7"/>
<line x1="560.89" y1="538.06" x2="566.41" y2="538.06" stroke="#0B7A48" stroke-width="0.7"/>
<circle cx="563.65" cy="532.2" r="1" fill="#0B7A48"/>
<circle cx="563.65" cy="535.55" r="1" fill="#0B7A48"/>
<circle cx="563.65" cy="546.42" r="1" fill="#0B7A48"/>
<line x1="530.5" y1="483.3" x2="530.5" y2="551" stroke="#000" stroke-width="0.9"/>
<line x1="530.5" y1="550.6" x2="571" y2="550.6" stroke="#000" stroke-width="0.9"/>
<line x1="527.1" y1="550.6" x2="530.5" y2="550.6" stroke="#000" stroke-width="0.9"/>
<text x="526.6" y="553.34" font-size="7.6" stroke="#000" stroke-width="0.22" text-anchor="end">0</text>
<line x1="527.1" y1="533.88" x2="530.5" y2="533.88" stroke="#000" stroke-width="0.9"/>
<text x="526.6" y="536.61" font-size="7.6" stroke="#000" stroke-width="0.22" text-anchor="end">2</text>
<line x1="527.1" y1="517.15" x2="530.5" y2="517.15" stroke="#000" stroke-width="0.9"/>
<text x="526.6" y="519.89" font-size="7.6" stroke="#000" stroke-width="0.22" text-anchor="end">4</text>
<line x1="527.1" y1="500.43" x2="530.5" y2="500.43" stroke="#000" stroke-width="0.9"/>
<text x="526.6" y="503.16" font-size="7.6" stroke="#000" stroke-width="0.22" text-anchor="end">6</text>
<line x1="527.1" y1="483.7" x2="530.5" y2="483.7" stroke="#000" stroke-width="0.9"/>
<text x="526.6" y="486.44" font-size="7.6" stroke="#000" stroke-width="0.22" text-anchor="end">8</text>
<text x="518.4" y="516" font-size="7.2" stroke="#000" stroke-width="0.22" text-anchor="middle" transform="rotate(-90 518.4 516)">Glycolytic Reserve</text>
<text x="557.6" y="468.8" font-size="6.25" stroke="#000" stroke-width="0.22" text-anchor="middle">p = 0.0037</text>
<line x1="552" y1="472.6" x2="563.7" y2="472.6" stroke="#333" stroke-width="1"/>
<text x="545.4" y="480.4" font-size="6.25" stroke="#000" stroke-width="0.22" text-anchor="middle">p = 0.0041</text>
<line x1="539.3" y1="484.6" x2="551.6" y2="484.6" stroke="#333" stroke-width="1.1"/>
<text x="581.8" y="437.3" font-size="12.5" stroke="#000" stroke-width="0.22" font-weight="bold">o</text>
<text x="643.5" y="454" font-size="8" stroke="#000" stroke-width="0.22" text-anchor="middle">DNA</text>
<line x1="619.2" y1="456.6" x2="667.6" y2="456.6" stroke="#000" stroke-width="0.8"/>
<text x="619.8" y="467.9" font-size="7.48" stroke="#000" stroke-width="0.22">siNC</text>
<text x="642" y="467.9" font-size="7.7" stroke="#000" stroke-width="0.22">siCNBP</text>
<text x="670.6" y="467.9" font-size="6.35" stroke="#000" stroke-width="0.22">kDa</text>
<g clip-path="url(#co0)">
<rect x="621.2" y="470.8" width="43.5" height="17.4" fill="#CFCFCF"/>
<rect x="621.2" y="470.8" width="19.5" height="17.4" fill="#BEBEBE"/>
<rect x="645" y="470.8" width="19.7" height="17.4" fill="#C0C0C0"/>
<rect x="640.7" y="470.8" width="4.3" height="17.4" fill="#E2E2E2"/>
<rect x="622" y="476.8" width="18.3" height="3.8" rx="1.6" fill="#111" opacity="0.92" filter="url(#blur6)"/>
<rect x="622" y="482.6" width="18.3" height="3.8" rx="1.6" fill="#333" opacity="0.6" filter="url(#blur6)"/>
<rect x="645.6" y="477.15" width="18.4" height="3.3" rx="1.6" fill="#1a1a1a" opacity="0.85" filter="url(#blur6)"/>
<rect x="645.6" y="482.7" width="18.4" height="3.6" rx="1.6" fill="#444" opacity="0.5" filter="url(#blur6)"/>
</g>
<g clip-path="url(#co1)">
<rect x="621.2" y="491.2" width="43.5" height="16.8" fill="#ECECEC"/>
<rect x="622.5" y="498.3" width="17.5" height="2.8" rx="1.6" fill="#333" opacity="0.65" filter="url(#blur6)"/>
<rect x="645.5" y="497.6" width="18.5" height="4" rx="1.6" fill="#000" opacity="1" filter="url(#blur6)"/>
<rect x="622" y="495.2" width="42" height="9" rx="1.6" fill="#888" opacity="0.18" filter="url(#blur1)"/>
</g>
<g clip-path="url(#co2)">
<rect x="621.2" y="512" width="43.5" height="16.7" fill="#F0F0F0"/>
<rect x="622.5" y="519.2" width="17.8" height="3.6" rx="1.6" fill="#000" opacity="1" filter="url(#blur6)"/>
<rect x="629" y="518.3" width="11.3" height="3.2" rx="1.6" fill="#000" opacity="0.9" filter="url(#blur6)"/>
<rect x="646.5" y="519.85" width="17" height="2.3" rx="1.6" fill="#222" opacity="0.8" filter="url(#blur6)"/>
<rect x="622" y="517" width="42" height="8" rx="1.6" fill="#888" opacity="0.15" filter="url(#blur1)"/>
</g>
<g clip-path="url(#co3)">
<rect x="621.2" y="532.7" width="43.5" height="15.8" fill="#EFEFEF"/>
<rect x="622.3" y="538.1" width="18.3" height="3" rx="1.6" fill="#000" opacity="1" filter="url(#blur6)"/>
<rect x="645.8" y="538" width="18.2" height="2.8" rx="1.6" fill="#000" opacity="1" filter="url(#blur6)"/>
<rect x="622" y="536.1" width="42" height="7" rx="1.6" fill="#888" opacity="0.15" filter="url(#blur1)"/>
</g>
<text x="616.2" y="483.7" font-size="7.7" stroke="#000" stroke-width="0.22" text-anchor="end">LDHA</text>
<text x="616.2" y="503.6" font-size="7.7" stroke="#000" stroke-width="0.22" text-anchor="end">MPC1</text>
<text x="616.2" y="524.2" font-size="7.7" stroke="#000" stroke-width="0.22" text-anchor="end">CNBP</text>
<text x="616.2" y="544.5" font-size="7.7" stroke="#000" stroke-width="0.22" text-anchor="end">β-actin</text>
<text x="671.2" y="486.7" font-size="6.3" stroke="#000" stroke-width="0.22">35</text>
<text x="671.2" y="507" font-size="6.3" stroke="#000" stroke-width="0.22">10</text>
<text x="671.2" y="528.4" font-size="6.3" stroke="#000" stroke-width="0.22">20</text>
<text x="671.2" y="547.9" font-size="6.3" stroke="#000" stroke-width="0.22">40</text>
<text x="2.6" y="591" font-size="12.5" stroke="#000" stroke-width="0.22" font-weight="bold">p</text>
<text x="101" y="596.1" font-size="7.7" stroke="#000" stroke-width="0.22" text-anchor="middle" font-weight="bold">CNBP-binding motifs</text>
<line x1="62.8" y1="606" x2="62.8" y2="649.5" stroke="#000" stroke-width="0.9"/>
<line x1="62.8" y1="649.1" x2="150.4" y2="649.1" stroke="#000" stroke-width="0.9"/>
<line x1="58.4" y1="606.3" x2="62.8" y2="606.3" stroke="#000" stroke-width="0.9"/>
<text x="58.2" y="609.9" font-size="11.4" stroke="#000" stroke-width="0.22" text-anchor="end">2</text>
<line x1="58.4" y1="627.6" x2="62.8" y2="627.6" stroke="#000" stroke-width="0.9"/>
<text x="58.2" y="631.2" font-size="11.4" stroke="#000" stroke-width="0.22" text-anchor="end">1</text>
<line x1="58.4" y1="649.1" x2="62.8" y2="649.1" stroke="#000" stroke-width="0.9"/>
<text x="58.2" y="652.7" font-size="11.4" stroke="#000" stroke-width="0.22" text-anchor="end">0</text>
<text x="42.3" y="626.3" font-size="7.6" stroke="#000" stroke-width="0.22" text-anchor="middle" transform="rotate(-90 42.3 626.3)">bit</text>
<text transform="translate(69.2 649.1) scale(1.53 5.9)" x="-0.07" y="-0.1" font-size="10" font-weight="bold" text-anchor="middle" fill="#0A0ACD">C</text>
<text transform="translate(80 649.1) scale(1.87 6.08)" x="0" y="0" font-size="10" font-weight="bold" text-anchor="middle" fill="#0E8A2E">T</text>
<text transform="translate(91.05 649.1) scale(1.56 5.9)" x="0.11" y="-0.1" font-size="10" font-weight="bold" text-anchor="middle" fill="#F7A400">G</text>
<text transform="translate(101.85 649.1) scale(1.57 6.08)" x="0" y="0" font-size="10" font-weight="bold" text-anchor="middle" fill="#CC0A0A">A</text>
<text transform="translate(112.6 649.1) scale(1.55 6.08)" x="0" y="0" font-size="10" font-weight="bold" text-anchor="middle" fill="#CC0A0A">A</text>
<text transform="translate(123.35 649.1) scale(1.57 6.08)" x="0" y="0" font-size="10" font-weight="bold" text-anchor="middle" fill="#CC0A0A">A</text>
<text transform="translate(134.15 649.1) scale(1.57 6.08)" x="0" y="0" font-size="10" font-weight="bold" text-anchor="middle" fill="#CC0A0A">A</text>
<text transform="translate(145.2 642.5) scale(1.7 2.01)" x="0" y="0" font-size="10" font-weight="bold" text-anchor="middle" fill="#0E8A2E">T</text>
<text transform="translate(145.2 649.1) scale(1.49 0.93)" x="0" y="0" font-size="10" font-weight="bold" text-anchor="middle" fill="#CC0A0A">A</text>
<text x="69" y="660" font-size="10.6" stroke="#000" stroke-width="0.22" text-anchor="middle">1</text>
<text x="78.9" y="660" font-size="10.6" stroke="#000" stroke-width="0.22" text-anchor="middle">2</text>
<text x="89.5" y="660" font-size="10.6" stroke="#000" stroke-width="0.22" text-anchor="middle">3</text>
<text x="100.4" y="660" font-size="10.6" stroke="#000" stroke-width="0.22" text-anchor="middle">4</text>
<text x="111.2" y="660" font-size="10.6" stroke="#000" stroke-width="0.22" text-anchor="middle">5</text>
<text x="122" y="660" font-size="10.6" stroke="#000" stroke-width="0.22" text-anchor="middle">6</text>
<text x="133.3" y="660" font-size="10.6" stroke="#000" stroke-width="0.22" text-anchor="middle">7</text>
<text x="143.9" y="660" font-size="10.6" stroke="#000" stroke-width="0.22" text-anchor="middle">8</text>
<rect x="13.7" y="665.2" width="187" height="38.8" fill="none" stroke="#000" stroke-width="1.2"/>
<line x1="13.7" y1="684.6" x2="200.7" y2="684.6" stroke="#000" stroke-width="1.2"/>
<line x1="56.9" y1="665.2" x2="56.9" y2="704" stroke="#000" stroke-width="1.2"/>
<text x="35.3" y="677.2" font-size="7.7" stroke="#000" stroke-width="0.22" text-anchor="middle" font-weight="bold">Gene</text>
<text x="128.7" y="677.2" font-size="7.72" stroke="#000" stroke-width="0.22" text-anchor="middle" font-weight="bold">Binding motifs and regions</text>
<text x="35.3" y="697" font-size="7.3" stroke="#000" stroke-width="0.22" text-anchor="middle" font-style="italic">MPC1</text>
<text x="128.9" y="697" font-size="7.75" stroke="#000" stroke-width="0.22" text-anchor="middle">TG<tspan fill="#F40000" stroke="#F40000" font-weight="bold">GAAAA</tspan>GT (-924~-916)</text>
<text x="207.4" y="590.7" font-size="12.5" stroke="#000" stroke-width="0.22" font-weight="bold">q</text>
<text x="265" y="605.5" font-size="7.2" stroke="#000" stroke-width="0.22" text-anchor="middle" font-style="italic">MPC1</text>
<rect x="248.3" y="682.87" width="13.1" height="1.33" fill="#D0E1F9"/>
<rect x="268.1" y="650.4" width="12.9" height="33.8" fill="#D0E1F9"/>
<line x1="254.85" y1="682.2" x2="254.85" y2="683.53" stroke="#555" stroke-width="0.7"/>
<line x1="251.55" y1="682.2" x2="258.15" y2="682.2" stroke="#555" stroke-width="0.7"/>
<line x1="251.55" y1="683.53" x2="258.15" y2="683.53" stroke="#555" stroke-width="0.7"/>
<line x1="250.89" y1="682.87" x2="258.81" y2="682.87" stroke="#555" stroke-width="0.7"/>
<polygon points="251.85,680.9 252.85,682.2 251.85,683.5 250.85,682.2" fill="#555"/>
<polygon points="254.85,679.9 255.85,681.2 254.85,682.5 253.85,681.2" fill="#555"/>
<polygon points="257.85,678.24 258.85,679.54 257.85,680.84 256.85,679.54" fill="#555"/>
<polygon points="253.85,682.07 254.85,683.37 253.85,684.67 252.85,683.37" fill="#555"/>
<polygon points="256.85,681.24 257.85,682.54 256.85,683.84 255.85,682.54" fill="#555"/>
<polygon points="258.35,679.57 259.35,680.87 258.35,682.17 257.35,680.87" fill="#555"/>
<line x1="274.55" y1="641.41" x2="274.55" y2="659.39" stroke="#3C9BF0" stroke-width="0.7"/>
<line x1="271.25" y1="641.41" x2="277.85" y2="641.41" stroke="#3C9BF0" stroke-width="0.7"/>
<line x1="271.25" y1="659.39" x2="277.85" y2="659.39" stroke="#3C9BF0" stroke-width="0.7"/>
<line x1="270.59" y1="650.4" x2="278.51" y2="650.4" stroke="#3C9BF0" stroke-width="0.7"/>
<circle cx="272.55" cy="625.09" r="1" fill="#3C9BF0"/>
<circle cx="276.55" cy="624.26" r="1" fill="#3C9BF0"/>
<circle cx="274.55" cy="649.24" r="1" fill="#3C9BF0"/>
<circle cx="274.55" cy="662.22" r="1" fill="#3C9BF0"/>
<circle cx="274.55" cy="668.05" r="1" fill="#3C9BF0"/>
<circle cx="274.55" cy="674.54" r="1" fill="#3C9BF0"/>
<line x1="242.6" y1="617.2" x2="242.6" y2="684.6" stroke="#000" stroke-width="0.9"/>
<line x1="242.6" y1="684.2" x2="286.5" y2="684.2" stroke="#000" stroke-width="0.9"/>
<line x1="239.2" y1="684.2" x2="242.6" y2="684.2" stroke="#000" stroke-width="0.9"/>
<text x="238.7" y="686.72" font-size="7" stroke="#000" stroke-width="0.22" text-anchor="end">0</text>
<line x1="239.2" y1="667.55" x2="242.6" y2="667.55" stroke="#000" stroke-width="0.9"/>
<text x="238.7" y="670.07" font-size="7" stroke="#000" stroke-width="0.22" text-anchor="end">1</text>
<line x1="239.2" y1="650.9" x2="242.6" y2="650.9" stroke="#000" stroke-width="0.9"/>
<text x="238.7" y="653.42" font-size="7" stroke="#000" stroke-width="0.22" text-anchor="end">2</text>
<line x1="239.2" y1="634.25" x2="242.6" y2="634.25" stroke="#000" stroke-width="0.9"/>
<text x="238.7" y="636.77" font-size="7" stroke="#000" stroke-width="0.22" text-anchor="end">3</text>
<line x1="239.2" y1="617.6" x2="242.6" y2="617.6" stroke="#000" stroke-width="0.9"/>
<text x="238.7" y="620.12" font-size="7" stroke="#000" stroke-width="0.22" text-anchor="end">4</text>
<text x="229" y="649.5" font-size="7.2" stroke="#000" stroke-width="0.22" text-anchor="middle" transform="rotate(-90 229 649.5)">% Input</text>
<text x="264.9" y="615.8" font-size="6.3" stroke="#000" stroke-width="0.22" text-anchor="middle">p = 0.0009</text>
<line x1="255" y1="619.5" x2="274.6" y2="619.5" stroke="#333" stroke-width="1"/>
<line x1="255" y1="684.2" x2="255" y2="687.4" stroke="#000" stroke-width="0.9"/>
<line x1="274.5" y1="684.2" x2="274.5" y2="687.4" stroke="#000" stroke-width="0.9"/>
<text x="257.2" y="690.3" font-size="7.2" stroke="#000" stroke-width="0.22" text-anchor="end" transform="rotate(-45 257.2 690.3)">IgG</text>
<text x="277" y="690.3" font-size="7.2" stroke="#000" stroke-width="0.22" text-anchor="end" transform="rotate(-45 277 690.3)">MPC1</text>
<text x="301" y="590.9" font-size="12.5" stroke="#000" stroke-width="0.22" font-weight="bold">r</text>
<text x="355" y="605.5" font-size="7.2" stroke="#000" stroke-width="0.22" text-anchor="middle" font-style="italic">MPC1</text>
<rect x="340.4" y="652.19" width="11.8" height="32.31" fill="#D0E1F9"/>
<rect x="357.8" y="676.87" width="11.8" height="7.63" fill="#FFB0AE"/>
<line x1="346.3" y1="646.5" x2="346.3" y2="657.87" stroke="#3C9BF0" stroke-width="0.7"/>
<line x1="343.3" y1="646.5" x2="349.3" y2="646.5" stroke="#3C9BF0" stroke-width="0.7"/>
<line x1="343.3" y1="657.87" x2="349.3" y2="657.87" stroke="#3C9BF0" stroke-width="0.7"/>
<line x1="342.7" y1="652.19" x2="349.9" y2="652.19" stroke="#3C9BF0" stroke-width="0.7"/>
<circle cx="346.3" cy="627.63" r="1" fill="#3C9BF0"/>
<circle cx="346.3" cy="634.99" r="1" fill="#3C9BF0"/>
<circle cx="346.3" cy="641.01" r="1" fill="#3C9BF0"/>
<circle cx="346.3" cy="657.74" r="1" fill="#3C9BF0"/>
<circle cx="346.3" cy="661.75" r="1" fill="#3C9BF0"/>
<circle cx="346.3" cy="667.77" r="1" fill="#3C9BF0"/>
<circle cx="343.8" cy="669.11" r="1" fill="#3C9BF0"/>
<circle cx="348.3" cy="668.11" r="1" fill="#3C9BF0"/>
<line x1="363.7" y1="675.4" x2="363.7" y2="678.35" stroke="#F03C2D" stroke-width="0.7"/>
<line x1="360.7" y1="675.4" x2="366.7" y2="675.4" stroke="#F03C2D" stroke-width="0.7"/>
<line x1="360.7" y1="678.35" x2="366.7" y2="678.35" stroke="#F03C2D" stroke-width="0.7"/>
<line x1="360.1" y1="676.87" x2="367.3" y2="676.87" stroke="#F03C2D" stroke-width="0.7"/>
<circle cx="368.7" cy="671.12" r="1" fill="#F03C2D"/>
<circle cx="358.7" cy="672.46" r="1" fill="#F03C2D"/>
<circle cx="363.2" cy="673.13" r="1" fill="#F03C2D"/>
<circle cx="360.7" cy="676.81" r="1" fill="#F03C2D"/>
<circle cx="366.7" cy="677.81" r="1" fill="#F03C2D"/>
<circle cx="363.7" cy="679.82" r="1" fill="#F03C2D"/>
<circle cx="358.7" cy="681.82" r="1" fill="#F03C2D"/>
<circle cx="368.7" cy="682.16" r="1" fill="#F03C2D"/>
<line x1="334.5" y1="617.2" x2="334.5" y2="684.9" stroke="#000" stroke-width="0.9"/>
<line x1="334.5" y1="684.5" x2="374.9" y2="684.5" stroke="#000" stroke-width="0.9"/>
<line x1="331.1" y1="684.5" x2="334.5" y2="684.5" stroke="#000" stroke-width="0.9"/>
<text x="330.6" y="687.02" font-size="7" stroke="#000" stroke-width="0.22" text-anchor="end">0</text>
<line x1="331.1" y1="671.12" x2="334.5" y2="671.12" stroke="#000" stroke-width="0.9"/>
<text x="330.6" y="673.64" font-size="7" stroke="#000" stroke-width="0.22" text-anchor="end">2</text>
<line x1="331.1" y1="657.74" x2="334.5" y2="657.74" stroke="#000" stroke-width="0.9"/>
<text x="330.6" y="660.26" font-size="7" stroke="#000" stroke-width="0.22" text-anchor="end">4</text>
<line x1="331.1" y1="644.36" x2="334.5" y2="644.36" stroke="#000" stroke-width="0.9"/>
<text x="330.6" y="646.88" font-size="7" stroke="#000" stroke-width="0.22" text-anchor="end">6</text>
<line x1="331.1" y1="630.98" x2="334.5" y2="630.98" stroke="#000" stroke-width="0.9"/>
<text x="330.6" y="633.5" font-size="7" stroke="#000" stroke-width="0.22" text-anchor="end">8</text>
<line x1="331.1" y1="617.6" x2="334.5" y2="617.6" stroke="#000" stroke-width="0.9"/>
<text x="330.6" y="620.12" font-size="7" stroke="#000" stroke-width="0.22" text-anchor="end">10</text>
<text x="319.1" y="649.5" font-size="7.2" stroke="#000" stroke-width="0.22" text-anchor="middle" transform="rotate(-90 319.1 649.5)">% Input</text>
<text x="354.8" y="618.2" font-size="6.3" stroke="#000" stroke-width="0.22" text-anchor="middle">p &lt; 0.0001</text>
<line x1="345.8" y1="621.5" x2="364" y2="621.5" stroke="#333" stroke-width="1"/>
<line x1="346.3" y1="684.5" x2="346.3" y2="687.6" stroke="#000" stroke-width="0.9"/>
<line x1="363.7" y1="684.5" x2="363.7" y2="687.6" stroke="#000" stroke-width="0.9"/>
<text x="348.6" y="690.3" font-size="7.2" stroke="#000" stroke-width="0.22" text-anchor="end" transform="rotate(-45 348.6 690.3)">Vehicle</text>
<text x="366" y="690.3" font-size="7.2" stroke="#000" stroke-width="0.22" text-anchor="end" transform="rotate(-45 366 690.3)">DNA</text>
<text x="394.8" y="591.3" font-size="12.5" stroke="#000" stroke-width="0.22" font-weight="bold">s</text>
<rect x="453.5" y="598.2" width="7.3" height="7.3" fill="#B2B2B2"/>
<text x="467.2" y="604.5" font-size="7.85" stroke="#000" stroke-width="0.22"><tspan font-style="italic">Pdgfra</tspan>-Cre(-)<tspan font-style="italic">Cnbp</tspan><tspan font-style="italic" font-size="5.3" dy="-3">fl/fl</tspan></text>
<rect x="555.9" y="598.2" width="7.3" height="7.3" fill="#109E5A"/>
<text x="569" y="604.5" font-size="7.85" stroke="#000" stroke-width="0.22"><tspan font-style="italic">Pdgfra</tspan>-Cre(+)<tspan font-style="italic">Cnbp</tspan><tspan font-style="italic" font-size="5.3" dy="-3">fl/fl</tspan></text>
<rect x="443.2" y="644.9" width="11.3" height="39.6" fill="#B2B2B2"/>
<rect x="460.1" y="671.79" width="11.8" height="12.71" fill="#109E5A"/>
<line x1="448.85" y1="642.72" x2="448.85" y2="647.07" stroke="#000" stroke-width="0.7"/>
<line x1="445.85" y1="642.72" x2="451.85" y2="642.72" stroke="#000" stroke-width="0.7"/>
<line x1="445.85" y1="647.07" x2="451.85" y2="647.07" stroke="#000" stroke-width="0.7"/>
<line x1="445.25" y1="644.9" x2="452.45" y2="644.9" stroke="#000" stroke-width="0.7"/>
<polygon points="448.85,635.24 449.95,636.67 448.85,638.1 447.75,636.67" fill="#000"/>
<polygon points="446.35,639.25 447.45,640.68 446.35,642.11 445.25,640.68" fill="#000"/>
<polygon points="451.35,639.59 452.45,641.01 451.35,642.44 450.25,641.01" fill="#000"/>
<polygon points="448.85,642.26 449.95,643.69 448.85,645.12 447.75,643.69" fill="#000"/>
<polygon points="446.85,645.27 447.95,646.7 446.85,648.13 445.75,646.7" fill="#000"/>
<polygon points="450.85,644.6 451.95,646.03 450.85,647.46 449.75,646.03" fill="#000"/>
<polygon points="448.85,648.28 449.95,649.71 448.85,651.14 447.75,649.71" fill="#000"/>
<polygon points="448.85,652.97 449.95,654.39 448.85,655.82 447.75,654.39" fill="#000"/>
<line x1="466" y1="669.45" x2="466" y2="674.13" stroke="#000" stroke-width="0.7"/>
<line x1="463" y1="669.45" x2="469" y2="669.45" stroke="#000" stroke-width="0.7"/>
<line x1="463" y1="674.13" x2="469" y2="674.13" stroke="#000" stroke-width="0.7"/>
<line x1="462.4" y1="671.79" x2="469.6" y2="671.79" stroke="#000" stroke-width="0.7"/>
<circle cx="463.5" cy="663.43" r="1.1" fill="#000"/>
<circle cx="468.5" cy="665.1" r="1.1" fill="#000"/>
<circle cx="466" cy="671.12" r="1.1" fill="#000"/>
<circle cx="461" cy="674.47" r="1.1" fill="#000"/>
<circle cx="471" cy="674.13" r="1.1" fill="#000"/>
<circle cx="466" cy="676.81" r="1.1" fill="#000"/>
<circle cx="463.5" cy="678.14" r="1.1" fill="#000"/>
<circle cx="468.5" cy="678.48" r="1.1" fill="#000"/>
<line x1="437.4" y1="617.2" x2="437.4" y2="684.9" stroke="#000" stroke-width="0.9"/>
<line x1="437.4" y1="684.5" x2="477.7" y2="684.5" stroke="#000" stroke-width="0.9"/>
<line x1="434" y1="684.5" x2="437.4" y2="684.5" stroke="#000" stroke-width="0.9"/>
<text x="433.5" y="687.02" font-size="7" stroke="#000" stroke-width="0.22" text-anchor="end">0</text>
<line x1="434" y1="667.77" x2="437.4" y2="667.77" stroke="#000" stroke-width="0.9"/>
<text x="433.5" y="670.29" font-size="7" stroke="#000" stroke-width="0.22" text-anchor="end">5</text>
<line x1="434" y1="651.05" x2="437.4" y2="651.05" stroke="#000" stroke-width="0.9"/>
<text x="433.5" y="653.57" font-size="7" stroke="#000" stroke-width="0.22" text-anchor="end">10</text>
<line x1="434" y1="634.33" x2="437.4" y2="634.33" stroke="#000" stroke-width="0.9"/>
<text x="433.5" y="636.85" font-size="7" stroke="#000" stroke-width="0.22" text-anchor="end">15</text>
<line x1="434" y1="617.6" x2="437.4" y2="617.6" stroke="#000" stroke-width="0.9"/>
<text x="433.5" y="620.12" font-size="7" stroke="#000" stroke-width="0.22" text-anchor="end">20</text>
<text x="421.9" y="650" font-size="7.3" stroke="#000" stroke-width="0.22" text-anchor="middle" transform="rotate(-90 421.9 650)">BCL6 (% of CD4)</text>
<text x="456.8" y="625.5" font-size="6.3" stroke="#000" stroke-width="0.22" text-anchor="middle">p &lt; 0.0001</text>
<line x1="448.1" y1="628.7" x2="465.9" y2="628.7" stroke="#333" stroke-width="1"/>
<rect x="533.5" y="638.26" width="11.5" height="45.94" fill="#B2B2B2"/>
<rect x="550.8" y="659.45" width="11.8" height="24.75" fill="#109E5A"/>
<line x1="539.25" y1="634.92" x2="539.25" y2="641.61" stroke="#000" stroke-width="0.7"/>
<line x1="536.25" y1="634.92" x2="542.25" y2="634.92" stroke="#000" stroke-width="0.7"/>
<line x1="536.25" y1="641.61" x2="542.25" y2="641.61" stroke="#000" stroke-width="0.7"/>
<line x1="535.65" y1="638.26" x2="542.85" y2="638.26" stroke="#000" stroke-width="0.7"/>
<polygon points="539.25,622.11 540.35,623.54 539.25,624.97 538.15,623.54" fill="#000"/>
<polygon points="539.25,629.25 540.35,630.68 539.25,632.11 538.15,630.68" fill="#000"/>
<polygon points="539.25,637.06 540.35,638.49 539.25,639.91 538.15,638.49" fill="#000"/>
<polygon points="537.25,640.4 538.35,641.83 537.25,643.26 536.15,641.83" fill="#000"/>
<polygon points="541.25,641.07 542.35,642.5 541.25,643.93 540.15,642.5" fill="#000"/>
<polygon points="539.25,646.64 540.35,648.07 539.25,649.5 538.15,648.07" fill="#000"/>
<line x1="556.7" y1="656.33" x2="556.7" y2="662.57" stroke="#000" stroke-width="0.7"/>
<line x1="553.7" y1="656.33" x2="559.7" y2="656.33" stroke="#000" stroke-width="0.7"/>
<line x1="553.7" y1="662.57" x2="559.7" y2="662.57" stroke="#000" stroke-width="0.7"/>
<line x1="553.1" y1="659.45" x2="560.3" y2="659.45" stroke="#000" stroke-width="0.7"/>
<rect x="555.6" y="647.87" width="2.2" height="2.2" fill="#000"/>
<rect x="555.6" y="650.1" width="2.2" height="2.2" fill="#000"/>
<rect x="553.1" y="657.46" width="2.2" height="2.2" fill="#000"/>
<rect x="558.1" y="658.57" width="2.2" height="2.2" fill="#000"/>
<rect x="555.6" y="661.91" width="2.2" height="2.2" fill="#000"/>
<rect x="558.1" y="667.94" width="2.2" height="2.2" fill="#000"/>
<rect x="553.6" y="669.05" width="2.2" height="2.2" fill="#000"/>
<line x1="527.7" y1="616.9" x2="527.7" y2="684.6" stroke="#000" stroke-width="0.9"/>
<line x1="527.7" y1="684.2" x2="568.3" y2="684.2" stroke="#000" stroke-width="0.9"/>
<line x1="524.3" y1="684.2" x2="527.7" y2="684.2" stroke="#000" stroke-width="0.9"/>
<text x="523.8" y="686.72" font-size="7" stroke="#000" stroke-width="0.22" text-anchor="end">0</text>
<line x1="524.3" y1="661.9" x2="527.7" y2="661.9" stroke="#000" stroke-width="0.9"/>
<text x="523.8" y="664.42" font-size="7" stroke="#000" stroke-width="0.22" text-anchor="end">10</text>
<line x1="524.3" y1="639.6" x2="527.7" y2="639.6" stroke="#000" stroke-width="0.9"/>
<text x="523.8" y="642.12" font-size="7" stroke="#000" stroke-width="0.22" text-anchor="end">20</text>
<line x1="524.3" y1="617.3" x2="527.7" y2="617.3" stroke="#000" stroke-width="0.9"/>
<text x="523.8" y="619.82" font-size="7" stroke="#000" stroke-width="0.22" text-anchor="end">30</text>
<text x="512.6" y="649" font-size="7.2" stroke="#000" stroke-width="0.22" text-anchor="middle" transform="rotate(-90 512.6 649)">IgG anti-dsDNA (µg/ml)</text>
<text x="548.2" y="615.8" font-size="6.3" stroke="#000" stroke-width="0.22" text-anchor="middle">p = 0.0004</text>
<line x1="539" y1="619.6" x2="557.2" y2="619.6" stroke="#333" stroke-width="1"/>
<rect x="630.1" y="644.79" width="11.3" height="40.11" fill="#B2B2B2"/>
<rect x="647.2" y="667.57" width="11.8" height="17.33" fill="#109E5A"/>
<line x1="635.75" y1="641.09" x2="635.75" y2="648.49" stroke="#000" stroke-width="0.7"/>
<line x1="632.75" y1="641.09" x2="638.75" y2="641.09" stroke="#000" stroke-width="0.7"/>
<line x1="632.75" y1="648.49" x2="638.75" y2="648.49" stroke="#000" stroke-width="0.7"/>
<line x1="632.15" y1="644.79" x2="639.35" y2="644.79" stroke="#000" stroke-width="0.7"/>
<circle cx="635.75" cy="629.04" r="1.1" fill="#000"/>
<circle cx="633.25" cy="641.49" r="1.1" fill="#000"/>
<circle cx="638.25" cy="641.15" r="1.1" fill="#000"/>
<circle cx="635.75" cy="644.86" r="1.1" fill="#000"/>
<circle cx="633.75" cy="648.56" r="1.1" fill="#000"/>
<circle cx="637.75" cy="649.23" r="1.1" fill="#000"/>
<circle cx="635.75" cy="653.61" r="1.1" fill="#000"/>
<circle cx="635.75" cy="657.98" r="1.1" fill="#000"/>
<line x1="653.1" y1="666.22" x2="653.1" y2="668.92" stroke="#000" stroke-width="0.7"/>
<line x1="650.1" y1="666.22" x2="656.1" y2="666.22" stroke="#000" stroke-width="0.7"/>
<line x1="650.1" y1="668.92" x2="656.1" y2="668.92" stroke="#000" stroke-width="0.7"/>
<line x1="649.5" y1="667.57" x2="656.7" y2="667.57" stroke="#000" stroke-width="0.7"/>
<circle cx="653.1" cy="660" r="1.1" fill="#000"/>
<circle cx="653.1" cy="664.71" r="1.1" fill="#000"/>
<circle cx="648.1" cy="667.4" r="1.1" fill="#000"/>
<circle cx="658.1" cy="668.08" r="1.1" fill="#000"/>
<circle cx="650.6" cy="668.75" r="1.1" fill="#000"/>
<circle cx="655.6" cy="669.08" r="1.1" fill="#000"/>
<circle cx="653.1" cy="670.09" r="1.1" fill="#000"/>
<circle cx="653.1" cy="671.44" r="1.1" fill="#000"/>
<line x1="624.1" y1="617.2" x2="624.1" y2="685.3" stroke="#000" stroke-width="0.9"/>
<line x1="624.1" y1="684.9" x2="664.5" y2="684.9" stroke="#000" stroke-width="0.9"/>
<line x1="620.7" y1="684.9" x2="624.1" y2="684.9" stroke="#000" stroke-width="0.9"/>
<text x="620.2" y="687.42" font-size="7" stroke="#000" stroke-width="0.22" text-anchor="end">0</text>
<line x1="620.7" y1="668.08" x2="624.1" y2="668.08" stroke="#000" stroke-width="0.9"/>
<text x="620.2" y="670.6" font-size="7" stroke="#000" stroke-width="0.22" text-anchor="end">500</text>
<line x1="620.7" y1="651.25" x2="624.1" y2="651.25" stroke="#000" stroke-width="0.9"/>
<text x="620.2" y="653.77" font-size="7" stroke="#000" stroke-width="0.22" text-anchor="end">1000</text>
<line x1="620.7" y1="634.42" x2="624.1" y2="634.42" stroke="#000" stroke-width="0.9"/>
<text x="620.2" y="636.94" font-size="7" stroke="#000" stroke-width="0.22" text-anchor="end">1500</text>
<line x1="620.7" y1="617.6" x2="624.1" y2="617.6" stroke="#000" stroke-width="0.9"/>
<text x="620.2" y="620.12" font-size="7" stroke="#000" stroke-width="0.22" text-anchor="end">2000</text>
<text x="599.5" y="650" font-size="7.35" stroke="#000" stroke-width="0.22" text-anchor="middle" transform="rotate(-90 599.5 650)">Urine protein (µg/ml)</text>
<text x="644.2" y="620.4" font-size="6.3" stroke="#000" stroke-width="0.22" text-anchor="middle">p &lt; 0.0001</text>
<line x1="635.5" y1="624" x2="653.5" y2="624" stroke="#333" stroke-width="1"/></svg></body></html>
